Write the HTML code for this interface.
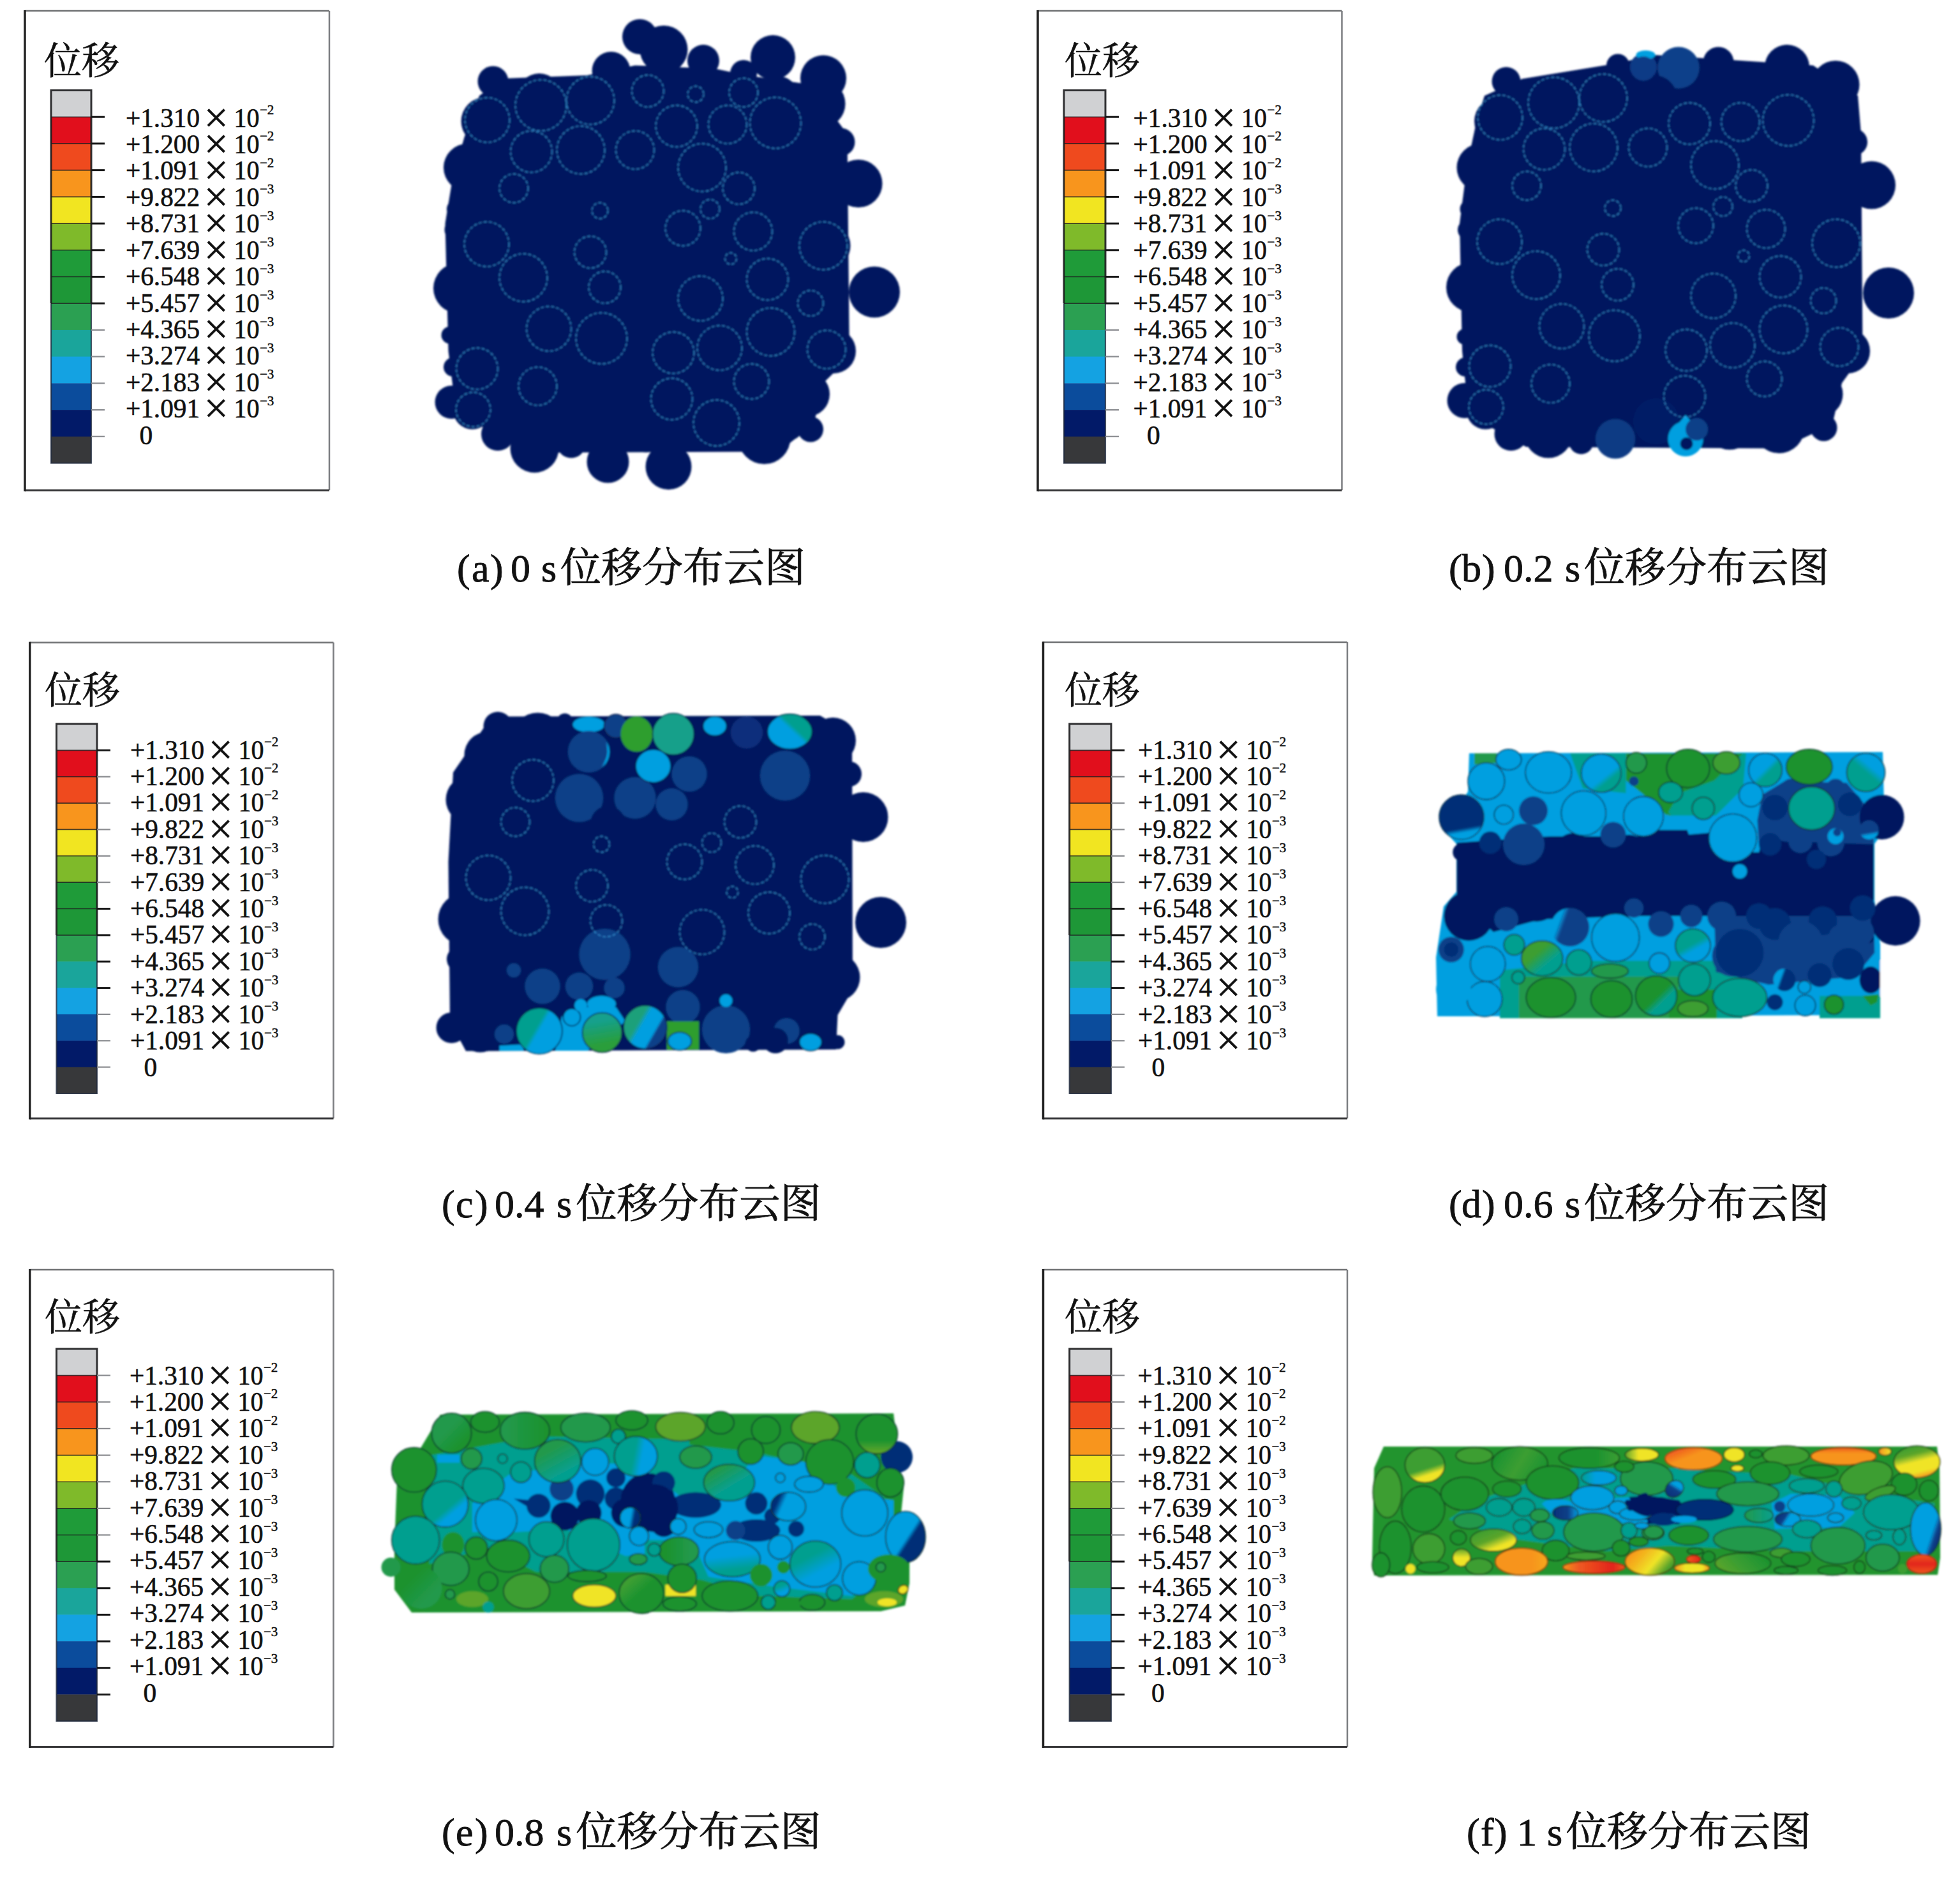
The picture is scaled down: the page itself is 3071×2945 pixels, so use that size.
<!DOCTYPE html><html lang="zh"><head><meta charset="utf-8"><title>位移分布云图</title><style>
html,body{margin:0;padding:0;background:#fff}svg{display:block}
.n{font-family:"Liberation Serif","Noto Serif CJK SC",serif;font-size:41.5px;fill:#111;stroke:#111;stroke-width:0.6px}
.x{font-family:"Liberation Serif","Noto Serif CJK SC",serif;font-size:68px;fill:#111;stroke:#111;stroke-width:0.5px}
.s{font-family:"Liberation Serif","Noto Serif CJK SC",serif;font-size:21px;fill:#111;stroke:#111;stroke-width:0.5px}
.h{font-family:"Liberation Serif","Noto Serif CJK SC",serif;font-size:59px;fill:#111;stroke:#111;stroke-width:0.6px}
.c{font-family:"Liberation Serif","Noto Serif CJK SC",serif;font-size:62px;fill:#111;stroke:#111;stroke-width:0.8px}
.k{font-family:"Liberation Serif","Noto Serif CJK SC",serif;font-size:64px;fill:#111;letter-spacing:0px;stroke:#111;stroke-width:0.8px}
</style></head><body>
<svg width="3071" height="2945" viewBox="0 0 3071 2945">
<defs><filter id="bl" x="-5%" y="-5%" width="110%" height="110%"><feGaussianBlur stdDeviation="1.6"/></filter>
<linearGradient id="g0" x1="0.008" y1="0.413" x2="0.992" y2="0.587"><stop offset="0.86" stop-color="#0b3f88"/><stop offset="0.94" stop-color="#049fe0"/></linearGradient><linearGradient id="g1" x1="0.117" y1="0.821" x2="0.883" y2="0.179"><stop offset="0.54" stop-color="#049fe0"/><stop offset="0.66" stop-color="#069f8f"/></linearGradient><linearGradient id="g2" x1="0.067" y1="0.250" x2="0.933" y2="0.750"><stop offset="0.40" stop-color="#069f8f"/><stop offset="0.50" stop-color="#049fe0"/></linearGradient><linearGradient id="g3" x1="0.413" y1="0.008" x2="0.587" y2="0.992"><stop offset="0.20" stop-color="#14a08c"/><stop offset="0.80" stop-color="#2a9e3a"/></linearGradient><linearGradient id="g4" x1="0.067" y1="0.250" x2="0.933" y2="0.750"><stop offset="0.00" stop-color="#1ea07a"/><stop offset="0.30" stop-color="#1ea07a"/><stop offset="0.42" stop-color="#049fe0"/><stop offset="0.72" stop-color="#049fe0"/><stop offset="0.78" stop-color="#0b3f88"/><stop offset="1.00" stop-color="#0b3f88"/></linearGradient><linearGradient id="g5" x1="0.413" y1="0.008" x2="0.587" y2="0.992"><stop offset="0.75" stop-color="#052f77"/><stop offset="0.85" stop-color="#049fe0"/></linearGradient><linearGradient id="g6" x1="0.030" y1="0.329" x2="0.970" y2="0.671"><stop offset="0.17" stop-color="#049fe0"/><stop offset="0.33" stop-color="#0b3f88"/></linearGradient><linearGradient id="g7" x1="0.030" y1="0.329" x2="0.970" y2="0.671"><stop offset="0.29" stop-color="#049fe0"/><stop offset="0.41" stop-color="#052f77"/></linearGradient><linearGradient id="g8" x1="0.413" y1="0.008" x2="0.587" y2="0.992"><stop offset="0.62" stop-color="#0b3f88"/><stop offset="0.78" stop-color="#049fe0"/></linearGradient><linearGradient id="g9" x1="0.179" y1="0.117" x2="0.821" y2="0.883"><stop offset="0.62" stop-color="#049fe0"/><stop offset="0.78" stop-color="#069f8f"/></linearGradient><linearGradient id="g10" x1="0.146" y1="0.146" x2="0.854" y2="0.854"><stop offset="0.47" stop-color="#049fe0"/><stop offset="0.63" stop-color="#069f8f"/></linearGradient><linearGradient id="g11" x1="0.146" y1="0.146" x2="0.854" y2="0.854"><stop offset="0.52" stop-color="#1a922f"/><stop offset="0.72" stop-color="#069f8f"/></linearGradient><linearGradient id="g12" x1="0.146" y1="0.146" x2="0.854" y2="0.854"><stop offset="0.30" stop-color="#3c9e30"/><stop offset="0.70" stop-color="#069f8f"/></linearGradient><linearGradient id="g13" x1="0.250" y1="0.067" x2="0.750" y2="0.933"><stop offset="0.45" stop-color="#069f8f"/><stop offset="0.65" stop-color="#049fe0"/></linearGradient><linearGradient id="g14" x1="0.179" y1="0.883" x2="0.821" y2="0.117"><stop offset="0.50" stop-color="#069f8f"/><stop offset="0.70" stop-color="#049fe0"/></linearGradient><linearGradient id="g15" x1="0.146" y1="0.146" x2="0.854" y2="0.854"><stop offset="0.35" stop-color="#22994c"/><stop offset="0.85" stop-color="#1a922f"/></linearGradient><linearGradient id="g16" x1="1.000" y1="0.500" x2="0.000" y2="0.500"><stop offset="0.10" stop-color="#1a922f"/><stop offset="0.90" stop-color="#22994c"/></linearGradient><linearGradient id="g17" x1="0.250" y1="0.067" x2="0.750" y2="0.933"><stop offset="0.20" stop-color="#22994c"/><stop offset="0.80" stop-color="#069f8f"/></linearGradient><linearGradient id="g18" x1="0.008" y1="0.413" x2="0.992" y2="0.587"><stop offset="0.45" stop-color="#069f8f"/><stop offset="0.65" stop-color="#049fe0"/></linearGradient><linearGradient id="g19" x1="0.179" y1="0.117" x2="0.821" y2="0.883"><stop offset="0.60" stop-color="#069f8f"/><stop offset="0.76" stop-color="#049fe0"/></linearGradient><linearGradient id="g20" x1="0.008" y1="0.413" x2="0.992" y2="0.587"><stop offset="0.50" stop-color="#049fe0"/><stop offset="0.70" stop-color="#052f77"/></linearGradient><linearGradient id="g21" x1="0.146" y1="0.146" x2="0.854" y2="0.854"><stop offset="0.10" stop-color="#3c9e30"/><stop offset="0.50" stop-color="#1a922f"/></linearGradient><linearGradient id="g22" x1="0.146" y1="0.146" x2="0.854" y2="0.854"><stop offset="0.20" stop-color="#1a922f"/><stop offset="0.80" stop-color="#22994c"/></linearGradient><linearGradient id="g23" x1="0.500" y1="0.000" x2="0.500" y2="1.000"><stop offset="0.65" stop-color="#1a922f"/><stop offset="0.95" stop-color="#5ba52b"/></linearGradient><linearGradient id="g24" x1="0.179" y1="0.117" x2="0.821" y2="0.883"><stop offset="0.10" stop-color="#22994c"/><stop offset="0.60" stop-color="#069f8f"/></linearGradient><linearGradient id="g25" x1="0.117" y1="0.179" x2="0.883" y2="0.821"><stop offset="0.53" stop-color="#049fe0"/><stop offset="0.63" stop-color="#052f77"/></linearGradient><linearGradient id="g26" x1="0.030" y1="0.329" x2="0.970" y2="0.671"><stop offset="0.15" stop-color="#052f77"/><stop offset="0.35" stop-color="#049fe0"/></linearGradient><linearGradient id="g27" x1="0.250" y1="0.067" x2="0.750" y2="0.933"><stop offset="0.30" stop-color="#069f8f"/><stop offset="0.70" stop-color="#049fe0"/></linearGradient><linearGradient id="g28" x1="0.413" y1="0.008" x2="0.587" y2="0.992"><stop offset="0.40" stop-color="#049fe0"/><stop offset="0.80" stop-color="#069f8f"/></linearGradient><linearGradient id="g29" x1="0.000" y1="0.500" x2="1.000" y2="0.500"><stop offset="0.20" stop-color="#1a922f"/><stop offset="0.80" stop-color="#22994c"/></linearGradient><linearGradient id="g30" x1="0.329" y1="0.030" x2="0.671" y2="0.970"><stop offset="0.30" stop-color="#069f8f"/><stop offset="0.70" stop-color="#049fe0"/></linearGradient><linearGradient id="g31" x1="0.329" y1="0.030" x2="0.671" y2="0.970"><stop offset="0.00" stop-color="#3c9e30"/><stop offset="0.60" stop-color="#3c9e30"/><stop offset="0.80" stop-color="#f0e428"/><stop offset="1.00" stop-color="#f0e428"/></linearGradient><linearGradient id="g32" x1="0.179" y1="0.117" x2="0.821" y2="0.883"><stop offset="0.00" stop-color="#3c9e30"/><stop offset="0.45" stop-color="#5ba52b"/><stop offset="0.80" stop-color="#f0e428"/><stop offset="1.00" stop-color="#f0e428"/></linearGradient><linearGradient id="g33" x1="0.500" y1="0.000" x2="0.500" y2="1.000"><stop offset="0.00" stop-color="#5ba52b"/><stop offset="0.50" stop-color="#f0e428"/><stop offset="1.00" stop-color="#f0e428"/></linearGradient><linearGradient id="g34" x1="0.030" y1="0.329" x2="0.970" y2="0.671"><stop offset="0.00" stop-color="#1a922f"/><stop offset="0.50" stop-color="#3c9e30"/><stop offset="1.00" stop-color="#1a922f"/></linearGradient><linearGradient id="g35" x1="0.000" y1="0.500" x2="1.000" y2="0.500"><stop offset="0.00" stop-color="#1a922f"/><stop offset="0.60" stop-color="#1a922f"/><stop offset="1.00" stop-color="#3c9e30"/></linearGradient><linearGradient id="g36" x1="0.000" y1="0.500" x2="1.000" y2="0.500"><stop offset="0.00" stop-color="#069f8f"/><stop offset="0.40" stop-color="#049fe0"/><stop offset="1.00" stop-color="#049fe0"/></linearGradient><linearGradient id="g37" x1="0.000" y1="0.500" x2="1.000" y2="0.500"><stop offset="0.00" stop-color="#052f77"/><stop offset="0.60" stop-color="#0b3f88"/><stop offset="1.00" stop-color="#049fe0"/></linearGradient><linearGradient id="g38" x1="0.000" y1="0.500" x2="1.000" y2="0.500"><stop offset="0.00" stop-color="#f7941e"/><stop offset="0.70" stop-color="#f7941e"/><stop offset="1.00" stop-color="#f5a81f"/></linearGradient><linearGradient id="g39" x1="0.000" y1="0.500" x2="1.000" y2="0.500"><stop offset="0.00" stop-color="#f7941e"/><stop offset="0.25" stop-color="#ef5a20"/><stop offset="0.80" stop-color="#e2231c"/><stop offset="1.00" stop-color="#ef5a20"/></linearGradient><linearGradient id="g40" x1="0.047" y1="0.289" x2="0.953" y2="0.711"><stop offset="0.00" stop-color="#f7941e"/><stop offset="0.30" stop-color="#f3b91f"/><stop offset="0.60" stop-color="#f0e428"/><stop offset="0.90" stop-color="#5ba52b"/><stop offset="1.00" stop-color="#3c9e30"/></linearGradient><linearGradient id="g41" x1="0.000" y1="0.500" x2="1.000" y2="0.500"><stop offset="0.00" stop-color="#5ba52b"/><stop offset="0.40" stop-color="#f0e428"/><stop offset="1.00" stop-color="#f0e428"/></linearGradient><linearGradient id="g42" x1="0.146" y1="0.146" x2="0.854" y2="0.854"><stop offset="0.00" stop-color="#ef5a20"/><stop offset="0.40" stop-color="#f7941e"/><stop offset="1.00" stop-color="#f7941e"/></linearGradient><linearGradient id="g43" x1="0.500" y1="0.000" x2="0.500" y2="1.000"><stop offset="0.00" stop-color="#ef5a20"/><stop offset="0.35" stop-color="#f7941e"/><stop offset="1.00" stop-color="#f7941e"/></linearGradient><linearGradient id="g44" x1="0.000" y1="0.500" x2="1.000" y2="0.500"><stop offset="0.00" stop-color="#f7941e"/><stop offset="1.00" stop-color="#f0e428"/></linearGradient><linearGradient id="g45" x1="0.329" y1="0.030" x2="0.671" y2="0.970"><stop offset="0.00" stop-color="#3c9e30"/><stop offset="0.25" stop-color="#5ba52b"/><stop offset="0.50" stop-color="#f0e428"/><stop offset="0.80" stop-color="#f0e428"/><stop offset="1.00" stop-color="#f7941e"/></linearGradient><linearGradient id="g46" x1="0.067" y1="0.250" x2="0.933" y2="0.750"><stop offset="0.00" stop-color="#049fe0"/><stop offset="0.70" stop-color="#049fe0"/><stop offset="0.85" stop-color="#0b3f88"/><stop offset="1.00" stop-color="#052f77"/></linearGradient><linearGradient id="g47" x1="0.000" y1="0.500" x2="1.000" y2="0.500"><stop offset="0.00" stop-color="#22994c"/><stop offset="1.00" stop-color="#069f8f"/></linearGradient><linearGradient id="g48" x1="0.030" y1="0.329" x2="0.970" y2="0.671"><stop offset="0.00" stop-color="#052f77"/><stop offset="0.35" stop-color="#0b3f88"/><stop offset="0.50" stop-color="#049fe0"/><stop offset="1.00" stop-color="#049fe0"/></linearGradient><linearGradient id="g49" x1="0.030" y1="0.671" x2="0.970" y2="0.329"><stop offset="0.00" stop-color="#052f77"/><stop offset="0.50" stop-color="#0b3f88"/><stop offset="0.70" stop-color="#049fe0"/><stop offset="1.00" stop-color="#049fe0"/></linearGradient><linearGradient id="g50" x1="0.000" y1="0.500" x2="1.000" y2="0.500"><stop offset="0.00" stop-color="#ef5a20"/><stop offset="1.00" stop-color="#e2231c"/></linearGradient><linearGradient id="g51" x1="0.000" y1="0.500" x2="1.000" y2="0.500"><stop offset="0.00" stop-color="#f7941e"/><stop offset="0.30" stop-color="#f0e428"/><stop offset="0.80" stop-color="#f0e428"/><stop offset="1.00" stop-color="#f7941e"/></linearGradient><linearGradient id="g52" x1="0.030" y1="0.671" x2="0.970" y2="0.329"><stop offset="0.00" stop-color="#5ba52b"/><stop offset="0.40" stop-color="#3c9e30"/><stop offset="1.00" stop-color="#1a922f"/></linearGradient><linearGradient id="g53" x1="0.500" y1="0.000" x2="0.500" y2="1.000"><stop offset="0.00" stop-color="#ef5a20"/><stop offset="0.50" stop-color="#e2231c"/><stop offset="1.00" stop-color="#ef5a20"/></linearGradient>
</defs>
<rect width="3071" height="2945" fill="#fff"/>
<g filter="url(#bl)">
<polygon points="751.0,150.0 787.5,123.0 920.0,118.0 995.0,102.5 1120.0,107.5 1170.0,118.0 1270.0,132.5 1327.5,210.0 1331.0,560.0 1290.0,600.0 1275.0,665.0 1220.0,707.5 860.0,709.0 820.0,697.5 715.0,650.0 702.5,550.0 697.5,350.0 709.0,280.0 727.5,215.0" fill="#02195f"/>
<circle cx="1002.5" cy="57.5" r="27.5" fill="#02195f"/>
<circle cx="1040.0" cy="77.5" r="37.5" fill="#02195f"/>
<circle cx="1102.0" cy="95.0" r="25.0" fill="#02195f"/>
<circle cx="957.5" cy="111.0" r="30.0" fill="#02195f"/>
<circle cx="1211.0" cy="90.0" r="35.0" fill="#02195f"/>
<circle cx="1290.0" cy="122.5" r="36.0" fill="#02195f"/>
<circle cx="1287.5" cy="162.5" r="37.0" fill="#02195f"/>
<circle cx="1317.5" cy="222.5" r="22.0" fill="#02195f"/>
<circle cx="1345.0" cy="287.5" r="37.5" fill="#02195f"/>
<circle cx="1370.0" cy="457.5" r="40.0" fill="#02195f"/>
<circle cx="1295.0" cy="385.0" r="37.5" fill="#02195f"/>
<circle cx="1306.0" cy="550.0" r="35.0" fill="#02195f"/>
<circle cx="1265.0" cy="617.5" r="35.0" fill="#02195f"/>
<circle cx="1270.0" cy="672.5" r="20.0" fill="#02195f"/>
<circle cx="1197.5" cy="686.0" r="41.0" fill="#02195f"/>
<circle cx="1122.5" cy="665.0" r="39.0" fill="#02195f"/>
<circle cx="1047.5" cy="731.0" r="36.0" fill="#02195f"/>
<circle cx="952.5" cy="723.5" r="33.0" fill="#02195f"/>
<circle cx="837.5" cy="702.5" r="38.0" fill="#02195f"/>
<circle cx="895.0" cy="695.0" r="22.5" fill="#02195f"/>
<circle cx="780.0" cy="680.0" r="26.0" fill="#02195f"/>
<circle cx="740.0" cy="642.5" r="30.0" fill="#02195f"/>
<circle cx="707.5" cy="630.0" r="26.0" fill="#02195f"/>
<circle cx="718.5" cy="451.5" r="39.5" fill="#02195f"/>
<circle cx="732.5" cy="262.5" r="37.5" fill="#02195f"/>
<circle cx="760.0" cy="190.0" r="37.5" fill="#02195f"/>
<circle cx="772.5" cy="127.5" r="24.0" fill="#02195f"/>
<circle cx="715.0" cy="327.5" r="15.0" fill="#02195f"/>
<circle cx="712.5" cy="360.0" r="16.0" fill="#02195f"/>
<circle cx="705.0" cy="525.0" r="13.5" fill="#02195f"/>
<circle cx="710.0" cy="575.0" r="15.0" fill="#02195f"/>
<circle cx="1165.0" cy="115.0" r="21.0" fill="#02195f"/>
<circle cx="1012.5" cy="677.5" r="31.0" fill="#02195f"/>
<circle cx="1235.0" cy="665.0" r="25.0" fill="#02195f"/>
<circle cx="1222.5" cy="145.0" r="25.0" fill="#02195f"/>
<circle cx="1080.0" cy="690.0" r="16.0" fill="#02195f"/>
<circle cx="845.0" cy="150.0" r="35.0" fill="#02195f"/>
<circle cx="1030.0" cy="135.0" r="30.0" fill="#02195f"/>
<circle cx="1075.0" cy="135.0" r="27.5" fill="#02195f"/>
<circle cx="763.5" cy="188.0" r="35.0" fill="none" stroke="#3fa9e8" stroke-width="1.4" stroke-dasharray="5 3" stroke-opacity="0.8"/>
<circle cx="847.5" cy="165.0" r="40.0" fill="none" stroke="#3fa9e8" stroke-width="1.4" stroke-dasharray="5 3" stroke-opacity="0.8"/>
<circle cx="925.0" cy="157.5" r="37.5" fill="none" stroke="#3fa9e8" stroke-width="1.4" stroke-dasharray="5 3" stroke-opacity="0.8"/>
<circle cx="1015.0" cy="142.5" r="25.0" fill="none" stroke="#3fa9e8" stroke-width="1.4" stroke-dasharray="5 3" stroke-opacity="0.8"/>
<circle cx="1090.0" cy="147.5" r="12.5" fill="none" stroke="#3fa9e8" stroke-width="1.4" stroke-dasharray="5 3" stroke-opacity="0.8"/>
<circle cx="1165.0" cy="145.0" r="22.5" fill="none" stroke="#3fa9e8" stroke-width="1.4" stroke-dasharray="5 3" stroke-opacity="0.8"/>
<circle cx="1060.0" cy="197.5" r="32.5" fill="none" stroke="#3fa9e8" stroke-width="1.4" stroke-dasharray="5 3" stroke-opacity="0.8"/>
<circle cx="1140.0" cy="195.0" r="30.0" fill="none" stroke="#3fa9e8" stroke-width="1.4" stroke-dasharray="5 3" stroke-opacity="0.8"/>
<circle cx="1215.0" cy="192.5" r="40.0" fill="none" stroke="#3fa9e8" stroke-width="1.4" stroke-dasharray="5 3" stroke-opacity="0.8"/>
<circle cx="832.5" cy="237.5" r="32.5" fill="none" stroke="#3fa9e8" stroke-width="1.4" stroke-dasharray="5 3" stroke-opacity="0.8"/>
<circle cx="910.0" cy="235.0" r="37.5" fill="none" stroke="#3fa9e8" stroke-width="1.4" stroke-dasharray="5 3" stroke-opacity="0.8"/>
<circle cx="995.0" cy="235.0" r="30.0" fill="none" stroke="#3fa9e8" stroke-width="1.4" stroke-dasharray="5 3" stroke-opacity="0.8"/>
<circle cx="1100.0" cy="262.5" r="37.5" fill="none" stroke="#3fa9e8" stroke-width="1.4" stroke-dasharray="5 3" stroke-opacity="0.8"/>
<circle cx="805.0" cy="295.0" r="22.5" fill="none" stroke="#3fa9e8" stroke-width="1.4" stroke-dasharray="5 3" stroke-opacity="0.8"/>
<circle cx="1157.5" cy="295.0" r="25.0" fill="none" stroke="#3fa9e8" stroke-width="1.4" stroke-dasharray="5 3" stroke-opacity="0.8"/>
<circle cx="940.0" cy="330.0" r="12.5" fill="none" stroke="#3fa9e8" stroke-width="1.4" stroke-dasharray="5 3" stroke-opacity="0.8"/>
<circle cx="1070.0" cy="357.5" r="27.5" fill="none" stroke="#3fa9e8" stroke-width="1.4" stroke-dasharray="5 3" stroke-opacity="0.8"/>
<circle cx="1112.5" cy="327.5" r="15.0" fill="none" stroke="#3fa9e8" stroke-width="1.4" stroke-dasharray="5 3" stroke-opacity="0.8"/>
<circle cx="1180.0" cy="362.5" r="30.0" fill="none" stroke="#3fa9e8" stroke-width="1.4" stroke-dasharray="5 3" stroke-opacity="0.8"/>
<circle cx="1290.0" cy="385.0" r="37.5" fill="none" stroke="#3fa9e8" stroke-width="1.4" stroke-dasharray="5 3" stroke-opacity="0.8"/>
<circle cx="762.5" cy="382.5" r="35.0" fill="none" stroke="#3fa9e8" stroke-width="1.4" stroke-dasharray="5 3" stroke-opacity="0.8"/>
<circle cx="925.0" cy="395.0" r="25.0" fill="none" stroke="#3fa9e8" stroke-width="1.4" stroke-dasharray="5 3" stroke-opacity="0.8"/>
<circle cx="820.0" cy="435.0" r="37.5" fill="none" stroke="#3fa9e8" stroke-width="1.4" stroke-dasharray="5 3" stroke-opacity="0.8"/>
<circle cx="947.5" cy="450.0" r="25.0" fill="none" stroke="#3fa9e8" stroke-width="1.4" stroke-dasharray="5 3" stroke-opacity="0.8"/>
<circle cx="1097.5" cy="467.5" r="35.0" fill="none" stroke="#3fa9e8" stroke-width="1.4" stroke-dasharray="5 3" stroke-opacity="0.8"/>
<circle cx="1202.5" cy="437.5" r="32.5" fill="none" stroke="#3fa9e8" stroke-width="1.4" stroke-dasharray="5 3" stroke-opacity="0.8"/>
<circle cx="1270.0" cy="475.0" r="20.0" fill="none" stroke="#3fa9e8" stroke-width="1.4" stroke-dasharray="5 3" stroke-opacity="0.8"/>
<circle cx="1145.0" cy="405.0" r="9.0" fill="none" stroke="#3fa9e8" stroke-width="1.4" stroke-dasharray="5 3" stroke-opacity="0.8"/>
<circle cx="860.0" cy="515.0" r="35.0" fill="none" stroke="#3fa9e8" stroke-width="1.4" stroke-dasharray="5 3" stroke-opacity="0.8"/>
<circle cx="942.5" cy="530.0" r="40.0" fill="none" stroke="#3fa9e8" stroke-width="1.4" stroke-dasharray="5 3" stroke-opacity="0.8"/>
<circle cx="1055.0" cy="552.5" r="32.5" fill="none" stroke="#3fa9e8" stroke-width="1.4" stroke-dasharray="5 3" stroke-opacity="0.8"/>
<circle cx="1127.5" cy="545.0" r="35.0" fill="none" stroke="#3fa9e8" stroke-width="1.4" stroke-dasharray="5 3" stroke-opacity="0.8"/>
<circle cx="1207.5" cy="520.0" r="37.5" fill="none" stroke="#3fa9e8" stroke-width="1.4" stroke-dasharray="5 3" stroke-opacity="0.8"/>
<circle cx="1295.0" cy="547.5" r="30.0" fill="none" stroke="#3fa9e8" stroke-width="1.4" stroke-dasharray="5 3" stroke-opacity="0.8"/>
<circle cx="747.5" cy="577.5" r="32.5" fill="none" stroke="#3fa9e8" stroke-width="1.4" stroke-dasharray="5 3" stroke-opacity="0.8"/>
<circle cx="842.5" cy="605.0" r="30.0" fill="none" stroke="#3fa9e8" stroke-width="1.4" stroke-dasharray="5 3" stroke-opacity="0.8"/>
<circle cx="1052.5" cy="625.0" r="32.5" fill="none" stroke="#3fa9e8" stroke-width="1.4" stroke-dasharray="5 3" stroke-opacity="0.8"/>
<circle cx="1177.5" cy="597.5" r="27.5" fill="none" stroke="#3fa9e8" stroke-width="1.4" stroke-dasharray="5 3" stroke-opacity="0.8"/>
<circle cx="741.5" cy="641.5" r="27.0" fill="none" stroke="#3fa9e8" stroke-width="1.4" stroke-dasharray="5 3" stroke-opacity="0.8"/>
<circle cx="1122.5" cy="662.5" r="36.0" fill="none" stroke="#3fa9e8" stroke-width="1.4" stroke-dasharray="5 3" stroke-opacity="0.8"/>
</g>
<g filter="url(#bl)">
<polygon points="2326.0,150.0 2385.0,123.5 2535.0,99.0 2591.0,86.0 2841.0,102.5 2911.0,150.0 2916.0,210.0 2918.5,555.0 2886.0,600.0 2871.0,665.0 2791.0,702.5 2391.0,700.0 2301.0,650.0 2291.0,550.0 2287.0,350.0 2298.5,260.0 2313.5,190.0" fill="#02195f"/>
<circle cx="2360.0" cy="127.5" r="22.5" fill="#02195f"/>
<circle cx="2535.0" cy="102.5" r="18.0" fill="#02195f"/>
<circle cx="2575.0" cy="105.0" r="21.0" fill="#0e3a86"/>
<circle cx="2630.0" cy="106.0" r="32.5" fill="#0f3f8a"/>
<circle cx="2692.5" cy="97.5" r="24.0" fill="#02195f"/>
<circle cx="2752.5" cy="115.0" r="15.0" fill="#02195f"/>
<circle cx="2800.0" cy="105.0" r="35.0" fill="#02195f"/>
<circle cx="2876.0" cy="132.5" r="37.5" fill="#02195f"/>
<circle cx="2875.0" cy="165.0" r="36.0" fill="#02195f"/>
<circle cx="2905.0" cy="222.5" r="21.0" fill="#02195f"/>
<circle cx="2932.5" cy="290.0" r="37.5" fill="#02195f"/>
<circle cx="2959.0" cy="459.0" r="40.0" fill="#02195f"/>
<circle cx="2895.0" cy="550.0" r="35.0" fill="#02195f"/>
<circle cx="2852.5" cy="617.5" r="35.0" fill="#02195f"/>
<circle cx="2857.5" cy="670.0" r="21.0" fill="#02195f"/>
<circle cx="2426.0" cy="680.0" r="37.5" fill="#02195f"/>
<circle cx="2367.5" cy="680.0" r="26.0" fill="#02195f"/>
<circle cx="2531.0" cy="687.5" r="31.0" fill="#0c3a84"/>
<circle cx="2595.0" cy="660.0" r="36.0" fill="#031c66"/>
<circle cx="2710.0" cy="665.0" r="39.5" fill="#02195f"/>
<circle cx="2787.5" cy="670.0" r="40.0" fill="#02195f"/>
<circle cx="2320.0" cy="262.5" r="37.5" fill="#02195f"/>
<circle cx="2347.5" cy="190.0" r="37.5" fill="#02195f"/>
<circle cx="2302.5" cy="327.5" r="15.0" fill="#02195f"/>
<circle cx="2300.0" cy="360.0" r="16.0" fill="#02195f"/>
<circle cx="2305.0" cy="450.0" r="39.0" fill="#02195f"/>
<circle cx="2295.0" cy="527.5" r="12.5" fill="#02195f"/>
<circle cx="2295.0" cy="627.5" r="27.5" fill="#02195f"/>
<circle cx="2327.5" cy="642.5" r="30.0" fill="#02195f"/>
<circle cx="2296.0" cy="575.0" r="15.0" fill="#02195f"/>
<circle cx="2477.5" cy="692.5" r="19.0" fill="#02195f"/>
<circle cx="2436.0" cy="160.0" r="37.5" fill="#02195f"/>
<circle cx="2591.0" cy="155.0" r="37.5" fill="#02195f"/>
<circle cx="2641.0" cy="687.5" r="27.5" fill="#049fe0"/>
<polygon points="2628.5,665.0 2641.0,650.0 2658.5,670.0" fill="#049fe0"/>
<circle cx="2658.5" cy="672.5" r="17.5" fill="#0b3f88"/>
<circle cx="2642.5" cy="695.0" r="10.0" fill="#02195f"/>
<ellipse cx="2578.5" cy="86.0" rx="15.0" ry="7.0" fill="#049fe0"/>
<circle cx="2575.0" cy="107.5" r="19.0" fill="#0e3a86"/>
<circle cx="2350.5" cy="184.0" r="35.0" fill="none" stroke="#3fa9e8" stroke-width="1.4" stroke-dasharray="5 3" stroke-opacity="0.8"/>
<circle cx="2434.5" cy="161.0" r="40.0" fill="none" stroke="#3fa9e8" stroke-width="1.4" stroke-dasharray="5 3" stroke-opacity="0.8"/>
<circle cx="2512.0" cy="153.5" r="37.5" fill="none" stroke="#3fa9e8" stroke-width="1.4" stroke-dasharray="5 3" stroke-opacity="0.8"/>
<circle cx="2647.0" cy="193.5" r="32.5" fill="none" stroke="#3fa9e8" stroke-width="1.4" stroke-dasharray="5 3" stroke-opacity="0.8"/>
<circle cx="2727.0" cy="191.0" r="30.0" fill="none" stroke="#3fa9e8" stroke-width="1.4" stroke-dasharray="5 3" stroke-opacity="0.8"/>
<circle cx="2802.0" cy="188.5" r="40.0" fill="none" stroke="#3fa9e8" stroke-width="1.4" stroke-dasharray="5 3" stroke-opacity="0.8"/>
<circle cx="2419.5" cy="233.5" r="32.5" fill="none" stroke="#3fa9e8" stroke-width="1.4" stroke-dasharray="5 3" stroke-opacity="0.8"/>
<circle cx="2497.0" cy="231.0" r="37.5" fill="none" stroke="#3fa9e8" stroke-width="1.4" stroke-dasharray="5 3" stroke-opacity="0.8"/>
<circle cx="2582.0" cy="231.0" r="30.0" fill="none" stroke="#3fa9e8" stroke-width="1.4" stroke-dasharray="5 3" stroke-opacity="0.8"/>
<circle cx="2687.0" cy="258.5" r="37.5" fill="none" stroke="#3fa9e8" stroke-width="1.4" stroke-dasharray="5 3" stroke-opacity="0.8"/>
<circle cx="2392.0" cy="291.0" r="22.5" fill="none" stroke="#3fa9e8" stroke-width="1.4" stroke-dasharray="5 3" stroke-opacity="0.8"/>
<circle cx="2744.5" cy="291.0" r="25.0" fill="none" stroke="#3fa9e8" stroke-width="1.4" stroke-dasharray="5 3" stroke-opacity="0.8"/>
<circle cx="2527.0" cy="326.0" r="12.5" fill="none" stroke="#3fa9e8" stroke-width="1.4" stroke-dasharray="5 3" stroke-opacity="0.8"/>
<circle cx="2657.0" cy="353.5" r="27.5" fill="none" stroke="#3fa9e8" stroke-width="1.4" stroke-dasharray="5 3" stroke-opacity="0.8"/>
<circle cx="2699.5" cy="323.5" r="15.0" fill="none" stroke="#3fa9e8" stroke-width="1.4" stroke-dasharray="5 3" stroke-opacity="0.8"/>
<circle cx="2767.0" cy="358.5" r="30.0" fill="none" stroke="#3fa9e8" stroke-width="1.4" stroke-dasharray="5 3" stroke-opacity="0.8"/>
<circle cx="2877.0" cy="381.0" r="37.5" fill="none" stroke="#3fa9e8" stroke-width="1.4" stroke-dasharray="5 3" stroke-opacity="0.8"/>
<circle cx="2349.5" cy="378.5" r="35.0" fill="none" stroke="#3fa9e8" stroke-width="1.4" stroke-dasharray="5 3" stroke-opacity="0.8"/>
<circle cx="2512.0" cy="391.0" r="25.0" fill="none" stroke="#3fa9e8" stroke-width="1.4" stroke-dasharray="5 3" stroke-opacity="0.8"/>
<circle cx="2407.0" cy="431.0" r="37.5" fill="none" stroke="#3fa9e8" stroke-width="1.4" stroke-dasharray="5 3" stroke-opacity="0.8"/>
<circle cx="2534.5" cy="446.0" r="25.0" fill="none" stroke="#3fa9e8" stroke-width="1.4" stroke-dasharray="5 3" stroke-opacity="0.8"/>
<circle cx="2684.5" cy="463.5" r="35.0" fill="none" stroke="#3fa9e8" stroke-width="1.4" stroke-dasharray="5 3" stroke-opacity="0.8"/>
<circle cx="2789.5" cy="433.5" r="32.5" fill="none" stroke="#3fa9e8" stroke-width="1.4" stroke-dasharray="5 3" stroke-opacity="0.8"/>
<circle cx="2857.0" cy="471.0" r="20.0" fill="none" stroke="#3fa9e8" stroke-width="1.4" stroke-dasharray="5 3" stroke-opacity="0.8"/>
<circle cx="2732.0" cy="401.0" r="9.0" fill="none" stroke="#3fa9e8" stroke-width="1.4" stroke-dasharray="5 3" stroke-opacity="0.8"/>
<circle cx="2447.0" cy="511.0" r="35.0" fill="none" stroke="#3fa9e8" stroke-width="1.4" stroke-dasharray="5 3" stroke-opacity="0.8"/>
<circle cx="2529.5" cy="526.0" r="40.0" fill="none" stroke="#3fa9e8" stroke-width="1.4" stroke-dasharray="5 3" stroke-opacity="0.8"/>
<circle cx="2642.0" cy="548.5" r="32.5" fill="none" stroke="#3fa9e8" stroke-width="1.4" stroke-dasharray="5 3" stroke-opacity="0.8"/>
<circle cx="2714.5" cy="541.0" r="35.0" fill="none" stroke="#3fa9e8" stroke-width="1.4" stroke-dasharray="5 3" stroke-opacity="0.8"/>
<circle cx="2794.5" cy="516.0" r="37.5" fill="none" stroke="#3fa9e8" stroke-width="1.4" stroke-dasharray="5 3" stroke-opacity="0.8"/>
<circle cx="2882.0" cy="543.5" r="30.0" fill="none" stroke="#3fa9e8" stroke-width="1.4" stroke-dasharray="5 3" stroke-opacity="0.8"/>
<circle cx="2334.5" cy="573.5" r="32.5" fill="none" stroke="#3fa9e8" stroke-width="1.4" stroke-dasharray="5 3" stroke-opacity="0.8"/>
<circle cx="2429.5" cy="601.0" r="30.0" fill="none" stroke="#3fa9e8" stroke-width="1.4" stroke-dasharray="5 3" stroke-opacity="0.8"/>
<circle cx="2639.5" cy="621.0" r="32.5" fill="none" stroke="#3fa9e8" stroke-width="1.4" stroke-dasharray="5 3" stroke-opacity="0.8"/>
<circle cx="2764.5" cy="593.5" r="27.5" fill="none" stroke="#3fa9e8" stroke-width="1.4" stroke-dasharray="5 3" stroke-opacity="0.8"/>
<circle cx="2328.5" cy="637.5" r="27.0" fill="none" stroke="#3fa9e8" stroke-width="1.4" stroke-dasharray="5 3" stroke-opacity="0.8"/>
</g>
<g filter="url(#bl)">
<polygon points="770.0,1122.5 1285.0,1121.0 1335.0,1150.0 1336.0,1550.0 1312.5,1590.0 1310.0,1644.0 730.0,1646.5 705.0,1600.0 702.5,1350.0 710.0,1210.0" fill="#02195f"/>
<circle cx="736.0" cy="1252.5" r="37.5" fill="#02195f"/>
<circle cx="763.5" cy="1182.5" r="36.0" fill="#02195f"/>
<circle cx="780.0" cy="1137.5" r="22.5" fill="#02195f"/>
<circle cx="722.5" cy="1317.5" r="14.0" fill="#02195f"/>
<circle cx="720.0" cy="1350.0" r="15.0" fill="#02195f"/>
<circle cx="727.5" cy="1440.0" r="41.0" fill="#02195f"/>
<circle cx="720.0" cy="1502.5" r="20.0" fill="#02195f"/>
<circle cx="725.0" cy="1555.0" r="17.5" fill="#02195f"/>
<circle cx="707.5" cy="1610.0" r="24.0" fill="#02195f"/>
<circle cx="752.5" cy="1617.5" r="31.0" fill="#02195f"/>
<circle cx="1305.0" cy="1160.0" r="36.0" fill="#02195f"/>
<circle cx="1330.0" cy="1212.5" r="20.0" fill="#02195f"/>
<circle cx="1352.5" cy="1280.0" r="39.0" fill="#02195f"/>
<circle cx="1380.0" cy="1445.0" r="40.0" fill="#02195f"/>
<circle cx="1310.0" cy="1531.0" r="37.5" fill="#02195f"/>
<circle cx="1265.0" cy="1590.0" r="42.5" fill="#02195f"/>
<circle cx="842.5" cy="1157.5" r="41.0" fill="#02195f"/>
<circle cx="885.0" cy="1130.0" r="12.5" fill="#02195f"/>
<circle cx="1312.5" cy="1632.5" r="11.0" fill="#02195f"/>
<ellipse cx="922.5" cy="1135.0" rx="25.0" ry="12.0" fill="#049fe0"/>
<circle cx="922.5" cy="1177.5" r="32.5" fill="url(#g0)"/>
<circle cx="922.5" cy="1177.5" r="29.0" fill="#0b3f88"/>
<circle cx="907.5" cy="1250.0" r="37.5" fill="#0b3f88"/>
<circle cx="995.0" cy="1250.0" r="32.5" fill="#0b3f88"/>
<circle cx="1080.0" cy="1212.5" r="27.5" fill="#0b3f88"/>
<circle cx="1052.5" cy="1260.0" r="25.0" fill="#0b3f88"/>
<circle cx="1230.0" cy="1215.0" r="39.0" fill="#0b3f88"/>
<circle cx="1170.0" cy="1147.5" r="25.0" fill="#0f2f7c"/>
<circle cx="965.0" cy="1137.5" r="18.5" fill="#0b3f88" stroke="#081a4a" stroke-width="1.6"/>
<ellipse cx="997.5" cy="1150.0" rx="25.0" ry="27.5" fill="#2e9e2e"/>
<circle cx="1055.0" cy="1150.0" r="32.5" fill="#12a08a" stroke="#081a4a" stroke-width="1.6"/>
<ellipse cx="1023.5" cy="1200.0" rx="27.5" ry="26.0" fill="#049fe0" stroke="#081a4a" stroke-width="1.6"/>
<ellipse cx="1120.0" cy="1137.5" rx="18.5" ry="15.0" fill="#049fe0" stroke="#081a4a" stroke-width="1.6"/>
<ellipse cx="1237.5" cy="1146.0" rx="35.0" ry="27.5" fill="url(#g1)" stroke="#081a4a" stroke-width="1.6"/>
<circle cx="975.0" cy="1190.0" r="12.5" fill="#02195f"/>
<circle cx="1115.0" cy="1272.5" r="35.0" fill="#02195f"/>
<circle cx="952.5" cy="1290.0" r="27.5" fill="#02195f"/>
<circle cx="947.5" cy="1495.0" r="40.0" fill="#0b3f88"/>
<circle cx="1062.5" cy="1515.0" r="31.5" fill="#0b3f88"/>
<circle cx="1070.0" cy="1577.5" r="26.5" fill="#0b3f88"/>
<circle cx="850.0" cy="1545.0" r="27.5" fill="#0b3f88"/>
<circle cx="907.5" cy="1545.0" r="21.5" fill="#0b3f88"/>
<circle cx="962.5" cy="1547.5" r="16.0" fill="#0b3f88"/>
<circle cx="1137.5" cy="1612.5" r="37.5" fill="#0b3f88"/>
<circle cx="1232.5" cy="1615.0" r="20.0" fill="#0b3f88"/>
<circle cx="805.0" cy="1520.0" r="11.0" fill="#0b3f88"/>
<circle cx="790.0" cy="1620.0" r="15.0" fill="#0b3f88"/>
<circle cx="872.5" cy="1487.5" r="32.5" fill="#02195f"/>
<circle cx="1215.0" cy="1630.0" r="20.0" fill="#02195f"/>
<circle cx="1180.0" cy="1635.0" r="12.5" fill="#02195f"/>
<polygon points="880.0,1592.5 920.0,1577.5 965.0,1577.5 980.0,1600.0 920.0,1646.0 870.0,1646.0" fill="#049fe0"/>
<polygon points="782.5,1638.0 820.0,1636.0 820.0,1646.0 782.5,1646.0" fill="#049fe0"/>
<polygon points="1045.0,1600.0 1095.0,1600.0 1095.0,1644.0 1045.0,1644.0" fill="#2e9e2e"/>
<circle cx="845.0" cy="1615.0" r="36.0" fill="url(#g2)" stroke="#081a4a" stroke-width="1.6"/>
<circle cx="896.0" cy="1593.5" r="13.5" fill="#049fe0" stroke="#081a4a" stroke-width="1.6"/>
<ellipse cx="942.5" cy="1572.5" rx="22.5" ry="12.5" fill="#049fe0"/>
<circle cx="910.0" cy="1575.0" r="10.0" fill="#049fe0"/>
<circle cx="943.5" cy="1617.5" r="31.0" fill="url(#g3)" stroke="#081a4a" stroke-width="1.6"/>
<circle cx="1011.0" cy="1609.0" r="34.0" fill="url(#g4)" stroke="#081a4a" stroke-width="1.6"/>
<ellipse cx="1065.0" cy="1631.0" rx="18.5" ry="14.0" fill="#049fe0" stroke="#081a4a" stroke-width="1.6"/>
<ellipse cx="1270.0" cy="1632.5" rx="17.5" ry="13.5" fill="#049fe0" stroke="#081a4a" stroke-width="1.6"/>
<circle cx="1137.5" cy="1567.5" r="10.0" fill="#049fe0"/>
<circle cx="807.5" cy="1287.5" r="22.5" fill="none" stroke="#3fa9e8" stroke-width="1.4" stroke-dasharray="5 3" stroke-opacity="0.8"/>
<circle cx="1160.0" cy="1287.5" r="25.0" fill="none" stroke="#3fa9e8" stroke-width="1.4" stroke-dasharray="5 3" stroke-opacity="0.8"/>
<circle cx="942.5" cy="1322.5" r="12.5" fill="none" stroke="#3fa9e8" stroke-width="1.4" stroke-dasharray="5 3" stroke-opacity="0.8"/>
<circle cx="1072.5" cy="1350.0" r="27.5" fill="none" stroke="#3fa9e8" stroke-width="1.4" stroke-dasharray="5 3" stroke-opacity="0.8"/>
<circle cx="1115.0" cy="1320.0" r="15.0" fill="none" stroke="#3fa9e8" stroke-width="1.4" stroke-dasharray="5 3" stroke-opacity="0.8"/>
<circle cx="1182.5" cy="1355.0" r="30.0" fill="none" stroke="#3fa9e8" stroke-width="1.4" stroke-dasharray="5 3" stroke-opacity="0.8"/>
<circle cx="1292.5" cy="1377.5" r="37.5" fill="none" stroke="#3fa9e8" stroke-width="1.4" stroke-dasharray="5 3" stroke-opacity="0.8"/>
<circle cx="765.0" cy="1375.0" r="35.0" fill="none" stroke="#3fa9e8" stroke-width="1.4" stroke-dasharray="5 3" stroke-opacity="0.8"/>
<circle cx="927.5" cy="1387.5" r="25.0" fill="none" stroke="#3fa9e8" stroke-width="1.4" stroke-dasharray="5 3" stroke-opacity="0.8"/>
<circle cx="822.5" cy="1427.5" r="37.5" fill="none" stroke="#3fa9e8" stroke-width="1.4" stroke-dasharray="5 3" stroke-opacity="0.8"/>
<circle cx="950.0" cy="1442.5" r="25.0" fill="none" stroke="#3fa9e8" stroke-width="1.4" stroke-dasharray="5 3" stroke-opacity="0.8"/>
<circle cx="1100.0" cy="1460.0" r="35.0" fill="none" stroke="#3fa9e8" stroke-width="1.4" stroke-dasharray="5 3" stroke-opacity="0.8"/>
<circle cx="1205.0" cy="1430.0" r="32.5" fill="none" stroke="#3fa9e8" stroke-width="1.4" stroke-dasharray="5 3" stroke-opacity="0.8"/>
<circle cx="1272.5" cy="1467.5" r="20.0" fill="none" stroke="#3fa9e8" stroke-width="1.4" stroke-dasharray="5 3" stroke-opacity="0.8"/>
<circle cx="1147.5" cy="1397.5" r="9.0" fill="none" stroke="#3fa9e8" stroke-width="1.4" stroke-dasharray="5 3" stroke-opacity="0.8"/>
<circle cx="835.0" cy="1222.5" r="32.5" fill="none" stroke="#3fa9e8" stroke-width="1.4" stroke-dasharray="5 3" stroke-opacity="0.8"/>
</g>
<g filter="url(#bl)">
<polygon points="2302.0,1180.0 2950.0,1178.0 2953.0,1300.0 2937.0,1322.0 2937.0,1410.0 2946.0,1480.0 2946.0,1590.0 2252.0,1592.0 2250.0,1500.0 2262.0,1420.0 2282.0,1397.0 2282.0,1322.0 2262.0,1300.0 2300.0,1240.0" fill="#049fe0"/>
<polygon points="2547.5,1180.0 2730.0,1180.0 2730.0,1235.0 2690.0,1272.5 2615.0,1277.5 2572.5,1242.5 2547.5,1222.5" fill="#1a922f"/>
<polygon points="2460.0,1180.0 2547.5,1180.0 2547.5,1242.5 2480.0,1235.0" fill="#069f8f"/>
<polygon points="2310.0,1180.0 2345.0,1180.0 2345.0,1195.0 2310.0,1197.5" fill="#22994c"/>
<polygon points="2350.0,1520.0 2490.0,1505.0 2730.0,1505.0 2730.0,1595.0 2350.0,1595.0" fill="#069f8f"/>
<polygon points="2380.0,1530.0 2630.0,1530.0 2630.0,1595.0 2380.0,1595.0" fill="#22994c"/>
<polygon points="2615.0,1550.0 2690.0,1550.0 2690.0,1595.0 2615.0,1595.0" fill="#1a922f"/>
<polygon points="2581.0,1180.0 2736.0,1180.0 2731.0,1235.0 2688.5,1277.5 2618.5,1277.5 2581.0,1235.0" fill="#069f8f"/>
<polygon points="2581.0,1180.0 2731.0,1180.0 2686.0,1222.5 2631.0,1242.5 2611.0,1277.5 2581.0,1242.5" fill="#1a922f"/>
<polygon points="2851.0,1560.0 2946.0,1560.0 2946.0,1595.0 2851.0,1595.0" fill="#069f8f"/>
<polygon points="2761.0,1245.0 2796.0,1223.8 2893.5,1226.2 2926.0,1265.0 2936.0,1300.0 2936.0,1325.0 2756.0,1325.0 2753.5,1285.0" fill="#0b3f88"/>
<polygon points="2686.0,1432.5 2936.0,1432.5 2937.2,1492.5 2906.0,1530.0 2771.0,1542.5 2688.5,1522.5" fill="#0b3f88"/>
<polygon points="2282.5,1320.0 2430.0,1310.0 2615.0,1310.0 2730.0,1300.0 2730.0,1435.0 2565.0,1435.0 2415.0,1440.0 2340.0,1460.0 2282.5,1410.0" fill="#02195f"/>
<polygon points="2581.0,1300.0 2643.5,1300.0 2656.0,1335.0 2756.0,1335.0 2761.0,1315.0 2856.0,1320.0 2936.0,1322.5 2936.0,1410.0 2906.0,1435.0 2581.0,1435.0" fill="#02195f"/>
<circle cx="2343.8" cy="1367.5" r="36.2" fill="#02195f"/>
<circle cx="2407.5" cy="1407.5" r="36.2" fill="#02195f"/>
<circle cx="2301.2" cy="1435.0" r="38.8" fill="#02195f"/>
<circle cx="2480.0" cy="1402.5" r="25.0" fill="#02195f"/>
<circle cx="2515.0" cy="1380.0" r="22.5" fill="#02195f"/>
<circle cx="2667.5" cy="1362.5" r="32.5" fill="#02195f"/>
<circle cx="2290.0" cy="1335.0" r="13.8" fill="#02195f"/>
<circle cx="2465.0" cy="1335.0" r="30.0" fill="#02195f"/>
<circle cx="2552.5" cy="1335.0" r="27.5" fill="#02195f"/>
<circle cx="2615.0" cy="1335.0" r="27.5" fill="#02195f"/>
<circle cx="2948.5" cy="1280.0" r="35.0" fill="#02195f"/>
<circle cx="2898.5" cy="1377.5" r="37.5" fill="#02195f"/>
<circle cx="2793.5" cy="1372.5" r="32.5" fill="#02195f"/>
<circle cx="2969.8" cy="1442.5" r="38.8" fill="#02195f"/>
<circle cx="2928.5" cy="1470.0" r="7.5" fill="#02195f"/>
<circle cx="2611.0" cy="1335.0" r="32.5" fill="#02195f"/>
<circle cx="2290.0" cy="1280.0" r="35.0" fill="url(#g5)" stroke="#0a3350" stroke-width="1.6"/>
<circle cx="2402.5" cy="1270.0" r="22.5" fill="#0b3f88"/>
<circle cx="2387.5" cy="1322.5" r="32.5" fill="#0b3f88"/>
<circle cx="2527.5" cy="1307.5" r="20.0" fill="#0b3f88"/>
<circle cx="2360.0" cy="1440.0" r="18.8" fill="#0b3f88"/>
<circle cx="2460.0" cy="1452.5" r="30.0" fill="url(#g6)"/>
<circle cx="2602.5" cy="1447.5" r="20.0" fill="#0b3f88"/>
<circle cx="2560.0" cy="1422.5" r="15.0" fill="#0b3f88"/>
<circle cx="2650.0" cy="1435.0" r="17.5" fill="#0b3f88"/>
<circle cx="2697.5" cy="1435.0" r="22.5" fill="#0b3f88"/>
<circle cx="2273.8" cy="1487.5" r="20.0" fill="#0b3f88"/>
<circle cx="2273.8" cy="1487.5" r="11.2" fill="#052f77"/>
<circle cx="2715.0" cy="1497.5" r="32.5" fill="#0b3f88"/>
<circle cx="2335.0" cy="1320.0" r="17.5" fill="#052f77"/>
<circle cx="2560.0" cy="1223.8" r="7.5" fill="#0b3f88"/>
<circle cx="2801.0" cy="1295.0" r="23.8" fill="#0b3f88"/>
<circle cx="2868.5" cy="1320.0" r="21.2" fill="#0b3f88"/>
<circle cx="2893.5" cy="1290.0" r="18.8" fill="#0b3f88"/>
<circle cx="2806.0" cy="1235.0" r="15.0" fill="#0b3f88"/>
<circle cx="2876.0" cy="1235.0" r="15.0" fill="#0b3f88"/>
<circle cx="2781.0" cy="1447.5" r="25.0" fill="#052f77"/>
<circle cx="2856.0" cy="1442.5" r="22.5" fill="#052f77"/>
<circle cx="2913.5" cy="1460.0" r="22.5" fill="#0b3f88"/>
<circle cx="2918.5" cy="1422.5" r="20.0" fill="#052f77"/>
<circle cx="2913.5" cy="1492.5" r="15.0" fill="#0b3f88"/>
<circle cx="2771.0" cy="1515.0" r="15.0" fill="#0b3f88"/>
<circle cx="2781.0" cy="1265.0" r="20.0" fill="#052f77"/>
<circle cx="2773.5" cy="1322.5" r="17.5" fill="#052f77"/>
<circle cx="2821.0" cy="1317.5" r="18.8" fill="#0b3f88"/>
<circle cx="2898.5" cy="1260.0" r="18.8" fill="#052f77"/>
<circle cx="2846.0" cy="1346.2" r="15.0" fill="#052f77"/>
<circle cx="2726.0" cy="1492.5" r="37.5" fill="#052f77"/>
<circle cx="2821.0" cy="1477.5" r="35.0" fill="#0b3f88"/>
<circle cx="2896.0" cy="1510.0" r="25.0" fill="#052f77"/>
<circle cx="2851.0" cy="1527.5" r="18.8" fill="#052f77"/>
<circle cx="2881.0" cy="1465.0" r="15.0" fill="#0b3f88"/>
<circle cx="2796.0" cy="1535.0" r="17.5" fill="url(#g7)"/>
<circle cx="2781.0" cy="1570.0" r="12.5" fill="#052f77"/>
<circle cx="2928.5" cy="1300.0" r="15.0" fill="url(#g8)"/>
<circle cx="2756.0" cy="1435.0" r="20.0" fill="#052f77"/>
<circle cx="2876.0" cy="1310.0" r="12.5" fill="#049fe0"/>
<circle cx="2878.5" cy="1303.8" r="6.2" fill="#0b3f88"/>
<ellipse cx="2931.0" cy="1535.0" rx="17.5" ry="21.2" fill="#02195f"/>
<polygon points="2946.0,1505.0 2971.0,1505.0 2971.0,1560.0 2946.0,1560.0" fill="#ffffff"/>
<circle cx="2328.8" cy="1223.8" r="28.8" fill="#049fe0" stroke="#0a3350" stroke-width="1.6"/>
<ellipse cx="2363.8" cy="1190.0" rx="20.0" ry="16.2" fill="#049fe0" stroke="#0a3350" stroke-width="1.6"/>
<ellipse cx="2426.2" cy="1210.0" rx="36.2" ry="32.5" fill="#049fe0" stroke="#0a3350" stroke-width="1.6"/>
<ellipse cx="2508.8" cy="1211.2" rx="31.2" ry="30.0" fill="url(#g9)" stroke="#0a3350" stroke-width="1.6"/>
<circle cx="2481.2" cy="1273.8" r="35.0" fill="#049fe0" stroke="#0a3350" stroke-width="1.6"/>
<circle cx="2575.0" cy="1278.8" r="31.2" fill="#049fe0" stroke="#0a3350" stroke-width="1.6"/>
<circle cx="2356.2" cy="1276.2" r="15.0" fill="#049fe0" stroke="#0a3350" stroke-width="1.6"/>
<circle cx="2715.0" cy="1312.5" r="37.5" fill="#049fe0" stroke="#0a3350" stroke-width="1.6"/>
<circle cx="2531.2" cy="1468.8" r="37.5" fill="#049fe0" stroke="#0a3350" stroke-width="1.6"/>
<circle cx="2331.2" cy="1510.0" r="27.5" fill="#049fe0" stroke="#0a3350" stroke-width="1.6"/>
<circle cx="2326.2" cy="1565.0" r="27.5" fill="#049fe0" stroke="#0a3350" stroke-width="1.6"/>
<circle cx="2277.5" cy="1550.0" r="27.5" fill="#049fe0"/>
<circle cx="2600.0" cy="1508.8" r="16.2" fill="#049fe0" stroke="#0a3350" stroke-width="1.6"/>
<circle cx="2766.0" cy="1206.2" r="26.2" fill="url(#g10)" stroke="#0a3350" stroke-width="1.6"/>
<circle cx="2743.5" cy="1245.0" r="18.8" fill="#049fe0" stroke="#0a3350" stroke-width="1.6"/>
<circle cx="2726.0" cy="1365.0" r="11.2" fill="#049fe0"/>
<circle cx="2828.5" cy="1575.0" r="16.2" fill="#049fe0" stroke="#0a3350" stroke-width="1.6"/>
<circle cx="2827.2" cy="1546.2" r="10.0" fill="#049fe0" stroke="#0a3350" stroke-width="1.6"/>
<ellipse cx="2645.0" cy="1203.8" rx="33.8" ry="30.0" fill="#1a922f" stroke="#0c2f2a" stroke-width="1.6"/>
<ellipse cx="2705.0" cy="1195.0" rx="21.2" ry="17.5" fill="#3c9e30" stroke="#0c2f2a" stroke-width="1.6"/>
<circle cx="2563.8" cy="1195.0" r="16.2" fill="#22994c" stroke="#0c2f2a" stroke-width="1.6"/>
<ellipse cx="2430.0" cy="1562.5" rx="38.8" ry="31.2" fill="#1a922f" stroke="#0c2f2a" stroke-width="1.6"/>
<ellipse cx="2525.0" cy="1565.0" rx="32.5" ry="28.8" fill="#1a922f" stroke="#0c2f2a" stroke-width="1.6"/>
<ellipse cx="2595.0" cy="1560.0" rx="32.5" ry="31.2" fill="url(#g11)" stroke="#0c2f2a" stroke-width="1.6"/>
<ellipse cx="2522.5" cy="1521.2" rx="28.8" ry="11.2" fill="#22994c" stroke="#0c2f2a" stroke-width="1.6"/>
<ellipse cx="2652.5" cy="1580.0" rx="23.8" ry="12.5" fill="#3c9e30" stroke="#0c2f2a" stroke-width="1.6"/>
<ellipse cx="2617.5" cy="1241.2" rx="18.8" ry="16.2" fill="#069f8f" stroke="#0c2f2a" stroke-width="1.6"/>
<circle cx="2668.8" cy="1266.2" r="17.5" fill="#069f8f" stroke="#0c2f2a" stroke-width="1.6"/>
<ellipse cx="2416.2" cy="1501.2" rx="32.5" ry="27.5" fill="url(#g12)" stroke="#0c2f2a" stroke-width="1.6"/>
<circle cx="2473.8" cy="1507.5" r="20.0" fill="#069f8f" stroke="#0c2f2a" stroke-width="1.6"/>
<circle cx="2372.5" cy="1480.0" r="16.2" fill="#069f8f" stroke="#0c2f2a" stroke-width="1.6"/>
<ellipse cx="2652.5" cy="1481.2" rx="27.5" ry="26.2" fill="url(#g13)" stroke="#0c2f2a" stroke-width="1.6"/>
<circle cx="2655.0" cy="1535.0" r="25.0" fill="#069f8f" stroke="#0c2f2a" stroke-width="1.6"/>
<circle cx="2378.8" cy="1531.2" r="10.0" fill="#069f8f" stroke="#0c2f2a" stroke-width="1.6"/>
<ellipse cx="2834.8" cy="1201.2" rx="36.2" ry="27.5" fill="#1a922f" stroke="#0c2f2a" stroke-width="1.6"/>
<ellipse cx="2838.5" cy="1266.2" rx="36.2" ry="33.8" fill="#069f8f" stroke="#0c2f2a" stroke-width="1.6"/>
<circle cx="2923.5" cy="1210.0" r="30.0" fill="url(#g14)" stroke="#0c2f2a" stroke-width="1.6"/>
<ellipse cx="2726.0" cy="1562.5" rx="42.5" ry="30.0" fill="#069f8f" stroke="#0c2f2a" stroke-width="1.6"/>
<circle cx="2873.5" cy="1573.8" r="15.0" fill="#1a922f" stroke="#0c2f2a" stroke-width="1.6"/>
<polygon points="2918.5,1560.0 2943.5,1557.5 2941.0,1570.0 2931.0,1575.0" fill="#1a922f"/>
</g>
<g filter="url(#bl)">
<polygon points="690.0,2216.0 1400.0,2214.0 1410.0,2300.0 1416.0,2330.0 1412.0,2370.0 1425.0,2400.0 1425.0,2480.0 1418.0,2515.0 1380.0,2524.0 645.0,2526.0 618.0,2490.0 618.0,2420.0 622.0,2320.0 655.0,2275.0 676.0,2240.0" fill="#1a922f"/>
<polygon points="672.5,2280.0 840.0,2250.0 1080.0,2255.0 1080.0,2462.5 840.0,2462.5 765.0,2425.0 672.5,2450.0" fill="#069f8f"/>
<polygon points="797.5,2310.0 915.0,2290.0 1080.0,2300.0 1080.0,2425.0 980.0,2437.5 885.0,2395.0 810.0,2400.0 740.0,2400.0 740.0,2355.0" fill="#049fe0"/>
<polygon points="685.0,2278.8 720.0,2278.8 720.0,2291.2 685.0,2291.2" fill="#049fe0"/>
<polygon points="1010.0,2255.0 1185.0,2275.0 1335.0,2310.0 1385.0,2345.0 1400.0,2450.0 1335.0,2505.0 1185.0,2500.0 1100.0,2475.0 1010.0,2462.5" fill="#069f8f"/>
<polygon points="1010.0,2300.0 1105.0,2375.0 1185.0,2280.0 1260.0,2290.0 1322.5,2340.0 1400.0,2350.0 1400.0,2445.0 1335.0,2500.0 1210.0,2485.0 1110.0,2470.0 1085.0,2412.5 1010.0,2412.5" fill="#049fe0"/>
<polygon points="1042.5,2482.5 1090.0,2482.5 1090.0,2500.0 1042.5,2500.0" fill="#f0e428"/>
<circle cx="843.8" cy="2358.8" r="18.8" fill="#052f77"/>
<circle cx="880.0" cy="2332.5" r="18.8" fill="#0b3f88"/>
<circle cx="885.0" cy="2375.0" r="22.5" fill="#02195f"/>
<circle cx="925.0" cy="2340.0" r="22.5" fill="#052f77"/>
<circle cx="922.5" cy="2370.0" r="20.0" fill="#02195f"/>
<circle cx="965.0" cy="2347.5" r="17.5" fill="#052f77"/>
<circle cx="965.0" cy="2315.0" r="15.0" fill="#052f77"/>
<circle cx="1015.0" cy="2350.0" r="42.5" fill="#02195f"/>
<circle cx="1040.0" cy="2322.5" r="17.5" fill="#052f77"/>
<circle cx="1040.0" cy="2387.5" r="20.0" fill="#02195f"/>
<circle cx="980.0" cy="2370.0" r="22.5" fill="#02195f"/>
<polygon points="805.0,2347.5 830.0,2350.0 830.0,2362.5" fill="#052f77"/>
<ellipse cx="1090.0" cy="2357.5" rx="40.0" ry="20.0" fill="#052f77"/>
<circle cx="1040.0" cy="2322.5" r="17.5" fill="#052f77"/>
<circle cx="1025.0" cy="2362.5" r="37.5" fill="#02195f"/>
<circle cx="1185.0" cy="2355.0" r="17.5" fill="#052f77"/>
<ellipse cx="1185.0" cy="2397.5" rx="37.5" ry="17.5" fill="#052f77"/>
<circle cx="1247.5" cy="2395.0" r="12.5" fill="#052f77"/>
<circle cx="1152.5" cy="2397.5" r="15.0" fill="#0b3f88"/>
<circle cx="1210.0" cy="2375.0" r="12.5" fill="#052f77"/>
<circle cx="1405.0" cy="2282.5" r="25.0" fill="#052f77"/>
<circle cx="707.5" cy="2245.0" r="31.2" fill="url(#g15)" stroke="#0c2f2a" stroke-width="1.6"/>
<ellipse cx="760.0" cy="2227.5" rx="22.5" ry="16.2" fill="#1a922f" stroke="#0c2f2a" stroke-width="1.6"/>
<ellipse cx="822.5" cy="2241.2" rx="38.8" ry="28.8" fill="url(#g16)" stroke="#0c2f2a" stroke-width="1.6"/>
<ellipse cx="917.5" cy="2236.2" rx="38.8" ry="22.5" fill="#22994c" stroke="#0c2f2a" stroke-width="1.6"/>
<ellipse cx="990.0" cy="2225.0" rx="25.0" ry="15.0" fill="#1a922f" stroke="#0c2f2a" stroke-width="1.6"/>
<circle cx="968.8" cy="2250.0" r="11.2" fill="#069f8f" stroke="#0c2f2a" stroke-width="1.6"/>
<circle cx="648.8" cy="2302.5" r="35.0" fill="#1a922f" stroke="#0c2f2a" stroke-width="1.6"/>
<circle cx="738.8" cy="2285.0" r="16.2" fill="#22994c" stroke="#0c2f2a" stroke-width="1.6"/>
<ellipse cx="873.8" cy="2288.8" rx="36.2" ry="33.8" fill="url(#g17)" stroke="#0c2f2a" stroke-width="1.6"/>
<circle cx="932.5" cy="2290.0" r="21.2" fill="#049fe0" stroke="#0c2f2a" stroke-width="1.6"/>
<ellipse cx="996.2" cy="2281.2" rx="33.8" ry="31.2" fill="url(#g18)" stroke="#0c2f2a" stroke-width="1.6"/>
<ellipse cx="757.5" cy="2327.5" rx="32.5" ry="27.5" fill="#069f8f" stroke="#0c2f2a" stroke-width="1.6"/>
<circle cx="816.2" cy="2306.2" r="16.2" fill="#069f8f" stroke="#0c2f2a" stroke-width="1.6"/>
<circle cx="787.5" cy="2285.0" r="7.5" fill="#069f8f" stroke="#0c2f2a" stroke-width="1.6"/>
<circle cx="697.5" cy="2356.2" r="36.2" fill="url(#g19)" stroke="#0c2f2a" stroke-width="1.6"/>
<circle cx="777.5" cy="2381.2" r="32.5" fill="#049fe0" stroke="#0c2f2a" stroke-width="1.6"/>
<circle cx="651.2" cy="2412.5" r="37.5" fill="#069f8f" stroke="#0c2f2a" stroke-width="1.6"/>
<circle cx="856.2" cy="2411.2" r="27.5" fill="#069f8f" stroke="#0c2f2a" stroke-width="1.6"/>
<circle cx="930.0" cy="2420.0" r="41.2" fill="#069f8f" stroke="#0c2f2a" stroke-width="1.6"/>
<circle cx="987.5" cy="2377.5" r="16.2" fill="url(#g20)" stroke="#0c2f2a" stroke-width="1.6"/>
<circle cx="1001.2" cy="2406.2" r="15.0" fill="#049fe0" stroke="#0c2f2a" stroke-width="1.6"/>
<ellipse cx="710.0" cy="2420.0" rx="17.5" ry="20.0" fill="#1a922f"/>
<circle cx="746.2" cy="2425.0" r="17.5" fill="#1a922f" stroke="#0c2f2a" stroke-width="1.6"/>
<ellipse cx="796.2" cy="2437.5" rx="33.8" ry="25.0" fill="#1a922f" stroke="#0c2f2a" stroke-width="1.6"/>
<ellipse cx="706.2" cy="2457.5" rx="28.8" ry="26.2" fill="#22994c" stroke="#0c2f2a" stroke-width="1.6"/>
<ellipse cx="868.8" cy="2457.5" rx="22.5" ry="21.2" fill="#22994c" stroke="#0c2f2a" stroke-width="1.6"/>
<circle cx="765.0" cy="2477.5" r="15.0" fill="#1a922f" stroke="#0c2f2a" stroke-width="1.6"/>
<ellipse cx="825.0" cy="2492.5" rx="36.2" ry="27.5" fill="#3c9e30" stroke="#0c2f2a" stroke-width="1.6"/>
<ellipse cx="920.0" cy="2468.8" rx="30.0" ry="8.8" fill="#1a922f" stroke="#0c2f2a" stroke-width="1.6"/>
<ellipse cx="931.2" cy="2500.0" rx="33.8" ry="17.5" fill="#f0e428" stroke="#0c2f2a" stroke-width="1.6"/>
<ellipse cx="1005.0" cy="2496.2" rx="35.0" ry="31.2" fill="url(#g21)" stroke="#0c2f2a" stroke-width="1.6"/>
<ellipse cx="1000.0" cy="2442.5" rx="13.8" ry="8.8" fill="#22994c" stroke="#0c2f2a" stroke-width="1.6"/>
<circle cx="660.0" cy="2487.5" r="32.5" fill="url(#g22)"/>
<circle cx="612.5" cy="2455.0" r="15.0" fill="#22994c"/>
<ellipse cx="740.0" cy="2505.0" rx="25.0" ry="12.5" fill="#5ba52b"/>
<circle cx="765.0" cy="2517.5" r="8.8" fill="#069f8f"/>
<circle cx="705.0" cy="2497.5" r="7.5" fill="#22994c" stroke="#0c2f2a" stroke-width="1.6"/>
<ellipse cx="1066.2" cy="2235.0" rx="38.8" ry="22.5" fill="#5ba52b" stroke="#0c2f2a" stroke-width="1.6"/>
<ellipse cx="1128.8" cy="2228.8" rx="21.2" ry="17.5" fill="#1a922f" stroke="#0c2f2a" stroke-width="1.6"/>
<ellipse cx="1200.0" cy="2240.0" rx="22.5" ry="21.2" fill="#1a922f" stroke="#0c2f2a" stroke-width="1.6"/>
<ellipse cx="1277.5" cy="2236.2" rx="37.5" ry="25.0" fill="#5ba52b" stroke="#0c2f2a" stroke-width="1.6"/>
<ellipse cx="1373.8" cy="2246.2" rx="32.5" ry="31.2" fill="url(#g23)" stroke="#0c2f2a" stroke-width="1.6"/>
<ellipse cx="1090.0" cy="2282.5" rx="25.0" ry="17.5" fill="#22994c" stroke="#0c2f2a" stroke-width="1.6"/>
<circle cx="1176.2" cy="2273.8" r="20.0" fill="#1a922f" stroke="#0c2f2a" stroke-width="1.6"/>
<ellipse cx="1238.8" cy="2277.5" rx="20.0" ry="17.5" fill="#22994c" stroke="#0c2f2a" stroke-width="1.6"/>
<ellipse cx="1300.0" cy="2290.0" rx="37.5" ry="35.0" fill="#1a922f" stroke="#0c2f2a" stroke-width="1.6"/>
<circle cx="1358.8" cy="2295.0" r="20.0" fill="#069f8f" stroke="#0c2f2a" stroke-width="1.6"/>
<ellipse cx="1395.0" cy="2322.5" rx="21.2" ry="22.5" fill="#1a922f" stroke="#0c2f2a" stroke-width="1.6"/>
<ellipse cx="1142.5" cy="2322.5" rx="40.0" ry="28.8" fill="url(#g24)" stroke="#0c2f2a" stroke-width="1.6"/>
<ellipse cx="1267.5" cy="2325.0" rx="22.5" ry="12.5" fill="#049fe0" stroke="#0c2f2a" stroke-width="1.6"/>
<circle cx="1222.5" cy="2315.0" r="7.5" fill="#049fe0" stroke="#0c2f2a" stroke-width="1.6"/>
<circle cx="1325.0" cy="2330.0" r="15.0" fill="#1a922f"/>
<circle cx="1355.0" cy="2370.0" r="36.2" fill="#049fe0" stroke="#0c2f2a" stroke-width="1.6"/>
<ellipse cx="1418.8" cy="2407.5" rx="31.2" ry="40.0" fill="url(#g25)" stroke="#0c2f2a" stroke-width="1.6"/>
<ellipse cx="1235.0" cy="2360.0" rx="27.5" ry="22.5" fill="url(#g26)" stroke="#0c2f2a" stroke-width="1.6"/>
<circle cx="1222.5" cy="2423.8" r="18.8" fill="#049fe0" stroke="#0c2f2a" stroke-width="1.6"/>
<ellipse cx="1277.5" cy="2450.0" rx="40.0" ry="36.2" fill="url(#g27)" stroke="#0c2f2a" stroke-width="1.6"/>
<ellipse cx="1147.5" cy="2442.5" rx="43.8" ry="27.5" fill="url(#g28)" stroke="#0c2f2a" stroke-width="1.6"/>
<circle cx="1346.2" cy="2472.5" r="26.2" fill="#049fe0" stroke="#0c2f2a" stroke-width="1.6"/>
<ellipse cx="1063.8" cy="2430.0" rx="31.2" ry="22.5" fill="url(#g29)" stroke="#0c2f2a" stroke-width="1.6"/>
<circle cx="1062.5" cy="2391.2" r="12.5" fill="#049fe0" stroke="#0c2f2a" stroke-width="1.6"/>
<ellipse cx="1110.0" cy="2396.2" rx="22.5" ry="12.5" fill="#049fe0" stroke="#0c2f2a" stroke-width="1.6"/>
<circle cx="1025.0" cy="2427.5" r="10.0" fill="#069f8f" stroke="#0c2f2a" stroke-width="1.6"/>
<circle cx="1068.8" cy="2472.5" r="22.5" fill="#1a922f" stroke="#0c2f2a" stroke-width="1.6"/>
<ellipse cx="1143.8" cy="2500.0" rx="43.8" ry="23.8" fill="#1a922f" stroke="#0c2f2a" stroke-width="1.6"/>
<ellipse cx="1065.0" cy="2512.5" rx="26.2" ry="11.2" fill="#1a922f" stroke="#0c2f2a" stroke-width="1.6"/>
<circle cx="1225.0" cy="2488.8" r="12.5" fill="url(#g30)" stroke="#0c2f2a" stroke-width="1.6"/>
<circle cx="1203.8" cy="2510.0" r="11.2" fill="#069f8f" stroke="#0c2f2a" stroke-width="1.6"/>
<ellipse cx="1272.5" cy="2510.0" rx="20.0" ry="12.5" fill="#1a922f" stroke="#0c2f2a" stroke-width="1.6"/>
<circle cx="1307.5" cy="2495.0" r="12.5" fill="#069f8f" stroke="#0c2f2a" stroke-width="1.6"/>
<circle cx="1192.5" cy="2467.5" r="17.5" fill="#1a922f"/>
<circle cx="1227.5" cy="2455.0" r="10.0" fill="#1a922f"/>
<ellipse cx="1392.5" cy="2457.5" rx="32.5" ry="22.5" fill="#1a922f"/>
<circle cx="1380.0" cy="2455.0" r="7.5" fill="#22994c" stroke="#0c2f2a" stroke-width="1.6"/>
<ellipse cx="1385.0" cy="2505.0" rx="30.0" ry="12.5" fill="#5ba52b"/>
<ellipse cx="1390.0" cy="2510.0" rx="15.0" ry="6.2" fill="#f0e428"/>
<ellipse cx="1415.0" cy="2490.0" rx="8.0" ry="6.5" fill="#f0e428" stroke="#3a2a00" stroke-width="1.6" transform="rotate(-30 1415.0 2490.0)"/>
<ellipse cx="1235.0" cy="2512.5" rx="20.0" ry="8.8" fill="#1a922f"/>
</g>
<g filter="url(#bl)">
<polygon points="2168.0,2266.0 3035.0,2266.0 3039.0,2300.0 3040.0,2440.0 3036.0,2467.0 2153.0,2468.0 2150.0,2440.0 2153.0,2300.0" fill="#20942f"/>
<polygon points="2315.0,2350.0 2465.0,2300.0 2630.0,2300.0 2630.0,2420.0 2515.0,2430.0 2365.0,2410.0 2270.0,2380.0" fill="#069f8f"/>
<polygon points="2415.0,2355.0 2630.0,2340.0 2630.0,2390.0 2440.0,2380.0" fill="#049fe0"/>
<polygon points="2552.5,2345.0 2630.0,2340.0 2630.0,2382.5 2565.0,2380.0" fill="#02195f"/>
<polygon points="2581.0,2300.0 2806.0,2310.0 2931.0,2340.0 3031.0,2355.0 3031.0,2430.0 2806.0,2430.0 2581.0,2420.0" fill="#069f8f"/>
<polygon points="2581.0,2342.5 2631.0,2350.0 2646.0,2370.0 2631.0,2387.5 2581.0,2387.5" fill="#02195f"/>
<polygon points="2776.0,2355.0 2806.0,2340.0 2881.0,2342.5 2906.0,2370.0 2881.0,2392.5 2781.0,2395.0" fill="#049fe0"/>
<ellipse cx="2173.8" cy="2337.5" rx="22.5" ry="40.0" fill="#3c9e30" stroke="#14361a" stroke-width="1.6"/>
<ellipse cx="2186.2" cy="2423.8" rx="25.0" ry="41.2" fill="#1a922f" stroke="#14361a" stroke-width="1.6"/>
<ellipse cx="2163.8" cy="2451.2" rx="13.8" ry="18.8" fill="#1a922f" stroke="#14361a" stroke-width="1.6"/>
<ellipse cx="2232.5" cy="2295.0" rx="31.2" ry="27.5" fill="url(#g31)" stroke="#14361a" stroke-width="1.6"/>
<ellipse cx="2230.0" cy="2363.8" rx="33.8" ry="36.2" fill="#1a922f" stroke="#14361a" stroke-width="1.6"/>
<ellipse cx="2238.8" cy="2426.2" rx="25.0" ry="23.8" fill="#3c9e30" stroke="#14361a" stroke-width="1.6"/>
<ellipse cx="2245.0" cy="2455.0" rx="25.0" ry="8.8" fill="#1a922f" stroke="#14361a" stroke-width="1.6"/>
<ellipse cx="2310.0" cy="2280.0" rx="28.8" ry="12.5" fill="#3c9e30" stroke="#14361a" stroke-width="1.6"/>
<ellipse cx="2295.0" cy="2340.0" rx="37.5" ry="26.2" fill="#1a922f" stroke="#14361a" stroke-width="1.6"/>
<ellipse cx="2302.5" cy="2382.5" rx="25.0" ry="12.5" fill="#22994c" stroke="#14361a" stroke-width="1.6"/>
<ellipse cx="2285.0" cy="2408.8" rx="12.5" ry="11.2" fill="#1a922f" stroke="#14361a" stroke-width="1.6"/>
<ellipse cx="2340.0" cy="2412.5" rx="36.2" ry="17.5" fill="url(#g32)" stroke="#14361a" stroke-width="1.6"/>
<ellipse cx="2290.0" cy="2440.0" rx="13.8" ry="13.8" fill="url(#g33)" stroke="#14361a" stroke-width="1.6"/>
<ellipse cx="2317.5" cy="2453.8" rx="21.2" ry="12.5" fill="#3c9e30" stroke="#14361a" stroke-width="1.6"/>
<ellipse cx="2381.2" cy="2292.5" rx="43.8" ry="26.2" fill="url(#g34)" stroke="#14361a" stroke-width="1.6"/>
<ellipse cx="2361.2" cy="2332.5" rx="22.5" ry="12.5" fill="#1a922f" stroke="#14361a" stroke-width="1.6"/>
<ellipse cx="2432.5" cy="2322.5" rx="41.2" ry="26.2" fill="#1a922f" stroke="#14361a" stroke-width="1.6"/>
<ellipse cx="2490.0" cy="2283.8" rx="47.5" ry="16.2" fill="url(#g35)" stroke="#14361a" stroke-width="1.6"/>
<ellipse cx="2497.5" cy="2400.0" rx="47.5" ry="30.0" fill="#22994c" stroke="#14361a" stroke-width="1.6"/>
<ellipse cx="2417.5" cy="2397.5" rx="17.5" ry="13.8" fill="#22994c" stroke="#14361a" stroke-width="1.6"/>
<ellipse cx="2437.5" cy="2428.8" rx="21.2" ry="16.2" fill="#1a922f" stroke="#14361a" stroke-width="1.6"/>
<ellipse cx="2580.0" cy="2316.2" rx="41.2" ry="26.2" fill="#22994c" stroke="#14361a" stroke-width="1.6"/>
<ellipse cx="2545.0" cy="2297.5" rx="15.0" ry="8.8" fill="#1a922f" stroke="#14361a" stroke-width="1.6"/>
<ellipse cx="2540.0" cy="2425.0" rx="13.8" ry="12.5" fill="#1a922f" stroke="#14361a" stroke-width="1.6"/>
<ellipse cx="2485.0" cy="2437.5" rx="30.0" ry="6.2" fill="#3c9e30" stroke="#14361a" stroke-width="1.6"/>
<ellipse cx="2590.0" cy="2401.2" rx="17.5" ry="11.2" fill="#22994c" stroke="#14361a" stroke-width="1.6"/>
<ellipse cx="2567.5" cy="2415.0" rx="15.0" ry="7.5" fill="#1a922f" stroke="#14361a" stroke-width="1.6"/>
<ellipse cx="2348.8" cy="2361.2" rx="20.0" ry="13.8" fill="#069f8f" stroke="#14361a" stroke-width="1.6"/>
<ellipse cx="2387.5" cy="2361.2" rx="17.5" ry="13.8" fill="#069f8f" stroke="#14361a" stroke-width="1.6"/>
<ellipse cx="2385.0" cy="2391.2" rx="13.8" ry="11.2" fill="#069f8f" stroke="#14361a" stroke-width="1.6"/>
<ellipse cx="2412.5" cy="2373.8" rx="15.0" ry="10.0" fill="#22994c" stroke="#14361a" stroke-width="1.6"/>
<ellipse cx="2505.0" cy="2315.0" rx="27.5" ry="11.2" fill="url(#g36)" stroke="#14361a" stroke-width="1.6"/>
<ellipse cx="2552.5" cy="2397.5" rx="12.5" ry="12.5" fill="#069f8f" stroke="#14361a" stroke-width="1.6"/>
<ellipse cx="2495.0" cy="2346.2" rx="33.8" ry="18.8" fill="#049fe0" stroke="#14361a" stroke-width="1.6"/>
<ellipse cx="2535.0" cy="2361.2" rx="13.8" ry="10.0" fill="#049fe0" stroke="#14361a" stroke-width="1.6"/>
<ellipse cx="2562.5" cy="2371.2" rx="25.0" ry="10.0" fill="#049fe0" stroke="#14361a" stroke-width="1.6"/>
<ellipse cx="2440.0" cy="2355.0" rx="22.5" ry="6.2" fill="#049fe0"/>
<ellipse cx="2540.0" cy="2335.0" rx="10.0" ry="7.5" fill="#049fe0" stroke="#14361a" stroke-width="1.6"/>
<ellipse cx="2572.5" cy="2390.0" rx="11.2" ry="5.0" fill="#049fe0" stroke="#14361a" stroke-width="1.6"/>
<ellipse cx="2452.5" cy="2370.0" rx="20.0" ry="11.2" fill="url(#g37)" stroke="#14361a" stroke-width="1.6"/>
<ellipse cx="2607.5" cy="2380.0" rx="22.5" ry="10.0" fill="#0b3f88"/>
<ellipse cx="2383.8" cy="2446.2" rx="41.2" ry="21.2" fill="url(#g38)" stroke="#5a2a00" stroke-width="1.6"/>
<ellipse cx="2497.5" cy="2455.0" rx="48.8" ry="10.0" fill="url(#g39)" stroke="#5a1a00" stroke-width="1.6"/>
<ellipse cx="2585.0" cy="2446.2" rx="38.8" ry="21.2" fill="url(#g40)" stroke="#4a3a00" stroke-width="1.6"/>
<ellipse cx="2572.5" cy="2278.8" rx="26.2" ry="10.0" fill="url(#g41)" stroke="#14361a" stroke-width="1.6"/>
<ellipse cx="2210.0" cy="2457.5" rx="7.5" ry="7.5" fill="#f0e428"/>
<ellipse cx="2653.5" cy="2285.0" rx="45.0" ry="17.5" fill="url(#g42)" stroke="#5a2a00" stroke-width="1.6"/>
<ellipse cx="2717.2" cy="2278.8" rx="16.2" ry="11.2" fill="#f0e428" stroke="#14361a" stroke-width="1.6"/>
<ellipse cx="2751.0" cy="2277.5" rx="10.0" ry="6.2" fill="#1a922f" stroke="#14361a" stroke-width="1.6"/>
<ellipse cx="2798.5" cy="2280.0" rx="36.2" ry="15.0" fill="#3c9e30" stroke="#14361a" stroke-width="1.6"/>
<ellipse cx="2888.5" cy="2281.2" rx="51.2" ry="13.8" fill="url(#g43)" stroke="#5a2a00" stroke-width="1.6"/>
<ellipse cx="2953.5" cy="2273.8" rx="10.0" ry="6.2" fill="url(#g44)" stroke="#14361a" stroke-width="1.6"/>
<ellipse cx="3003.5" cy="2290.0" rx="36.2" ry="25.0" fill="url(#g45)" stroke="#14361a" stroke-width="1.6"/>
<ellipse cx="2722.2" cy="2300.0" rx="10.0" ry="5.0" fill="#f0e428" stroke="#14361a" stroke-width="1.6"/>
<ellipse cx="2686.0" cy="2317.5" rx="33.8" ry="13.8" fill="#1a922f" stroke="#14361a" stroke-width="1.6"/>
<ellipse cx="2773.5" cy="2307.5" rx="31.2" ry="17.5" fill="#1a922f" stroke="#14361a" stroke-width="1.6"/>
<ellipse cx="2849.8" cy="2305.0" rx="30.0" ry="10.0" fill="#1a922f" stroke="#14361a" stroke-width="1.6"/>
<ellipse cx="2923.5" cy="2315.0" rx="42.5" ry="25.0" fill="#3c9e30" stroke="#14361a" stroke-width="1.6" transform="rotate(-15 2923.5 2315.0)"/>
<ellipse cx="2983.5" cy="2325.0" rx="20.0" ry="17.5" fill="#1a922f" stroke="#14361a" stroke-width="1.6"/>
<ellipse cx="3022.2" cy="2335.0" rx="15.0" ry="16.2" fill="#1a922f" stroke="#14361a" stroke-width="1.6"/>
<ellipse cx="2946.0" cy="2338.8" rx="25.0" ry="8.8" fill="#3c9e30" stroke="#14361a" stroke-width="1.6" transform="rotate(-20 2946.0 2338.8)"/>
<ellipse cx="2738.5" cy="2340.0" rx="48.8" ry="18.8" fill="#22994c" stroke="#14361a" stroke-width="1.6"/>
<ellipse cx="2831.0" cy="2327.5" rx="27.5" ry="11.2" fill="#069f8f" stroke="#14361a" stroke-width="1.6"/>
<ellipse cx="2873.5" cy="2332.5" rx="12.5" ry="12.5" fill="#069f8f" stroke="#14361a" stroke-width="1.6"/>
<ellipse cx="2837.2" cy="2357.5" rx="36.2" ry="17.5" fill="#049fe0" stroke="#14361a" stroke-width="1.6"/>
<ellipse cx="2901.0" cy="2355.0" rx="15.0" ry="10.0" fill="#069f8f" stroke="#14361a" stroke-width="1.6"/>
<ellipse cx="2963.5" cy="2368.8" rx="43.8" ry="27.5" fill="#069f8f" stroke="#14361a" stroke-width="1.6"/>
<ellipse cx="3017.2" cy="2395.0" rx="23.8" ry="41.2" fill="url(#g46)" stroke="#14361a" stroke-width="1.6"/>
<ellipse cx="2756.0" cy="2373.8" rx="22.5" ry="11.2" fill="url(#g47)" stroke="#14361a" stroke-width="1.6"/>
<ellipse cx="2801.0" cy="2380.0" rx="20.0" ry="11.2" fill="url(#g48)" stroke="#14361a" stroke-width="1.6"/>
<circle cx="2788.5" cy="2360.0" r="8.8" fill="#0b3f88"/>
<ellipse cx="2831.0" cy="2395.0" rx="22.5" ry="13.8" fill="#069f8f" stroke="#14361a" stroke-width="1.6"/>
<ellipse cx="2876.0" cy="2377.5" rx="12.5" ry="7.5" fill="#049fe0" stroke="#14361a" stroke-width="1.6"/>
<ellipse cx="2671.0" cy="2365.0" rx="45.0" ry="16.2" fill="#052f77" stroke="#041040" stroke-width="1.6"/>
<ellipse cx="2598.5" cy="2360.0" rx="27.5" ry="15.0" fill="#02195f"/>
<ellipse cx="2623.5" cy="2332.5" rx="15.0" ry="12.5" fill="url(#g49)" stroke="#14361a" stroke-width="1.6" transform="rotate(-35 2623.5 2332.5)"/>
<ellipse cx="2606.0" cy="2380.0" rx="20.0" ry="10.0" fill="#052f77"/>
<ellipse cx="2638.5" cy="2380.0" rx="20.0" ry="5.5" fill="#049fe0"/>
<ellipse cx="2566.0" cy="2352.5" rx="20.0" ry="7.5" fill="#02195f" transform="rotate(-40 2566.0 2352.5)"/>
<ellipse cx="2566.0" cy="2362.5" rx="22.5" ry="7.5" fill="#02195f" transform="rotate(30 2566.0 2362.5)"/>
<ellipse cx="2646.0" cy="2405.0" rx="31.2" ry="15.0" fill="#1a922f" stroke="#14361a" stroke-width="1.6"/>
<ellipse cx="2591.0" cy="2400.0" rx="15.0" ry="10.0" fill="#22994c" stroke="#14361a" stroke-width="1.6"/>
<ellipse cx="2738.5" cy="2411.2" rx="53.8" ry="20.0" fill="#22994c" stroke="#14361a" stroke-width="1.6"/>
<ellipse cx="2879.8" cy="2421.2" rx="42.5" ry="28.8" fill="#22994c" stroke="#14361a" stroke-width="1.6"/>
<ellipse cx="2949.8" cy="2440.0" rx="26.2" ry="21.2" fill="#22994c" stroke="#14361a" stroke-width="1.6"/>
<ellipse cx="2976.0" cy="2407.5" rx="10.0" ry="12.5" fill="#069f8f" stroke="#14361a" stroke-width="1.6"/>
<ellipse cx="2936.0" cy="2405.0" rx="12.5" ry="7.5" fill="#069f8f" stroke="#14361a" stroke-width="1.6"/>
<ellipse cx="2656.0" cy="2430.0" rx="12.5" ry="5.0" fill="#1a922f" stroke="#14361a" stroke-width="1.6"/>
<ellipse cx="2653.5" cy="2442.5" rx="11.2" ry="6.2" fill="url(#g50)" stroke="#5a1a00" stroke-width="1.6"/>
<ellipse cx="2651.0" cy="2456.2" rx="27.5" ry="7.5" fill="url(#g51)" stroke="#4a3a00" stroke-width="1.6"/>
<ellipse cx="2677.2" cy="2438.8" rx="10.0" ry="8.8" fill="#1a922f" stroke="#14361a" stroke-width="1.6"/>
<ellipse cx="2731.0" cy="2448.8" rx="43.8" ry="16.2" fill="url(#g52)" stroke="#14361a" stroke-width="1.6"/>
<ellipse cx="2791.0" cy="2432.5" rx="17.5" ry="7.5" fill="#3c9e30" stroke="#14361a" stroke-width="1.6"/>
<ellipse cx="2813.5" cy="2442.5" rx="22.5" ry="11.2" fill="#1a922f" stroke="#14361a" stroke-width="1.6"/>
<ellipse cx="2798.5" cy="2460.0" rx="18.8" ry="6.2" fill="#1a922f" stroke="#14361a" stroke-width="1.6"/>
<ellipse cx="2871.0" cy="2460.0" rx="22.5" ry="7.5" fill="#1a922f" stroke="#14361a" stroke-width="1.6"/>
<ellipse cx="2913.5" cy="2455.0" rx="8.8" ry="10.0" fill="#1a922f" stroke="#14361a" stroke-width="1.6"/>
<ellipse cx="3011.0" cy="2450.0" rx="23.8" ry="15.0" fill="url(#g53)" stroke="#5a1a00" stroke-width="1.6"/>
<circle cx="2981.0" cy="2457.5" r="7.5" fill="#3c9e30"/>
</g>
<rect x="39" y="17" width="477" height="751" fill="#fff"/>
<line x1="39" y1="17" x2="516" y2="17" stroke="#6f7173" stroke-width="2.5"/>
<line x1="516" y1="17" x2="516" y2="768" stroke="#7b7d80" stroke-width="2.5"/>
<line x1="39" y1="768" x2="516" y2="768" stroke="#3a3a3c" stroke-width="3"/>
<line x1="39" y1="16" x2="39" y2="769.5" stroke="#222" stroke-width="3.5"/>
<rect x="80" y="141.5" width="63" height="42.2" fill="#d0d1d3"/>
<rect x="80" y="183.2" width="63" height="42.2" fill="#e10f1c"/>
<rect x="80" y="224.9" width="63" height="42.2" fill="#ef4a1e"/>
<rect x="80" y="266.6" width="63" height="42.2" fill="#f8951d"/>
<rect x="80" y="308.4" width="63" height="42.2" fill="#f1e521"/>
<rect x="80" y="350.1" width="63" height="42.2" fill="#7fba2a"/>
<rect x="80" y="391.8" width="63" height="42.2" fill="#1f9b39"/>
<rect x="80" y="433.5" width="63" height="42.2" fill="#1e9737"/>
<rect x="80" y="475.2" width="63" height="42.2" fill="#2ba052"/>
<rect x="80" y="516.9" width="63" height="42.2" fill="#1aa59b"/>
<rect x="80" y="558.6" width="63" height="42.2" fill="#14a2e2"/>
<rect x="80" y="600.4" width="63" height="42.2" fill="#0b4c9c"/>
<rect x="80" y="642.1" width="63" height="42.2" fill="#021a68"/>
<rect x="80" y="683.8" width="63" height="42.2" fill="#37383a"/>
<path d="M80 475.2 V141.5 H143 V475.2" fill="none" stroke="#1b1b1d" stroke-width="3" stroke-opacity="0.9"/>
<path d="M80 475.2 V725.5 H143 V475.2" fill="none" stroke="#222c40" stroke-width="2.2" stroke-opacity="0.8"/>
<line x1="80" y1="183.2" x2="143" y2="183.2" stroke="#1d1d1f" stroke-width="1.6" stroke-opacity="0.8"/>
<line x1="143" y1="183.2" x2="164" y2="183.2" stroke="#161616" stroke-width="3"/>
<line x1="80" y1="224.9" x2="143" y2="224.9" stroke="#1d1d1f" stroke-width="1.6" stroke-opacity="0.8"/>
<line x1="143" y1="224.9" x2="164" y2="224.9" stroke="#161616" stroke-width="3"/>
<line x1="80" y1="266.6" x2="143" y2="266.6" stroke="#1d1d1f" stroke-width="1.6" stroke-opacity="0.8"/>
<line x1="143" y1="266.6" x2="164" y2="266.6" stroke="#161616" stroke-width="3"/>
<line x1="80" y1="308.4" x2="143" y2="308.4" stroke="#1d1d1f" stroke-width="1.6" stroke-opacity="0.8"/>
<line x1="143" y1="308.4" x2="164" y2="308.4" stroke="#161616" stroke-width="3"/>
<line x1="80" y1="350.1" x2="143" y2="350.1" stroke="#1d1d1f" stroke-width="1.6" stroke-opacity="0.8"/>
<line x1="143" y1="350.1" x2="164" y2="350.1" stroke="#161616" stroke-width="3"/>
<line x1="80" y1="391.8" x2="143" y2="391.8" stroke="#1d1d1f" stroke-width="1.6" stroke-opacity="0.8"/>
<line x1="143" y1="391.8" x2="164" y2="391.8" stroke="#161616" stroke-width="3"/>
<line x1="80" y1="433.5" x2="143" y2="433.5" stroke="#1d1d1f" stroke-width="1.6" stroke-opacity="0.8"/>
<line x1="143" y1="433.5" x2="164" y2="433.5" stroke="#161616" stroke-width="3"/>
<line x1="80" y1="475.2" x2="143" y2="475.2" stroke="#1d1d1f" stroke-width="1.6" stroke-opacity="0.8"/>
<line x1="143" y1="475.2" x2="164" y2="475.2" stroke="#161616" stroke-width="3"/>
<line x1="143" y1="516.9" x2="164" y2="516.9" stroke="#8a8c90" stroke-width="2.2"/>
<line x1="143" y1="558.6" x2="164" y2="558.6" stroke="#8a8c90" stroke-width="2.2"/>
<line x1="143" y1="600.4" x2="164" y2="600.4" stroke="#8a8c90" stroke-width="2.2"/>
<line x1="143" y1="642.1" x2="164" y2="642.1" stroke="#8a8c90" stroke-width="2.2"/>
<line x1="143" y1="683.8" x2="164" y2="683.8" stroke="#8a8c90" stroke-width="2.2"/>
<text class="n" x="197" y="198.5" textLength="116" lengthAdjust="spacingAndGlyphs">+1.310</text>
<text class="x" x="319.5" y="206.5">×</text>
<text class="n" x="366.5" y="198.5" textLength="40" lengthAdjust="spacingAndGlyphs">10</text>
<text class="s" x="407" y="179.0">−2</text>
<text class="n" x="197" y="239.9" textLength="116" lengthAdjust="spacingAndGlyphs">+1.200</text>
<text class="x" x="319.5" y="247.9">×</text>
<text class="n" x="366.5" y="239.9" textLength="40" lengthAdjust="spacingAndGlyphs">10</text>
<text class="s" x="407" y="220.4">−2</text>
<text class="n" x="197" y="281.4" textLength="116" lengthAdjust="spacingAndGlyphs">+1.091</text>
<text class="x" x="319.5" y="289.4">×</text>
<text class="n" x="366.5" y="281.4" textLength="40" lengthAdjust="spacingAndGlyphs">10</text>
<text class="s" x="407" y="261.9">−2</text>
<text class="n" x="197" y="322.8" textLength="116" lengthAdjust="spacingAndGlyphs">+9.822</text>
<text class="x" x="319.5" y="330.8">×</text>
<text class="n" x="366.5" y="322.8" textLength="40" lengthAdjust="spacingAndGlyphs">10</text>
<text class="s" x="407" y="303.3">−3</text>
<text class="n" x="197" y="364.2" textLength="116" lengthAdjust="spacingAndGlyphs">+8.731</text>
<text class="x" x="319.5" y="372.2">×</text>
<text class="n" x="366.5" y="364.2" textLength="40" lengthAdjust="spacingAndGlyphs">10</text>
<text class="s" x="407" y="344.7">−3</text>
<text class="n" x="197" y="405.7" textLength="116" lengthAdjust="spacingAndGlyphs">+7.639</text>
<text class="x" x="319.5" y="413.7">×</text>
<text class="n" x="366.5" y="405.7" textLength="40" lengthAdjust="spacingAndGlyphs">10</text>
<text class="s" x="407" y="386.2">−3</text>
<text class="n" x="197" y="447.1" textLength="116" lengthAdjust="spacingAndGlyphs">+6.548</text>
<text class="x" x="319.5" y="455.1">×</text>
<text class="n" x="366.5" y="447.1" textLength="40" lengthAdjust="spacingAndGlyphs">10</text>
<text class="s" x="407" y="427.6">−3</text>
<text class="n" x="197" y="488.5" textLength="116" lengthAdjust="spacingAndGlyphs">+5.457</text>
<text class="x" x="319.5" y="496.5">×</text>
<text class="n" x="366.5" y="488.5" textLength="40" lengthAdjust="spacingAndGlyphs">10</text>
<text class="s" x="407" y="469.0">−3</text>
<text class="n" x="197" y="530.0" textLength="116" lengthAdjust="spacingAndGlyphs">+4.365</text>
<text class="x" x="319.5" y="538.0">×</text>
<text class="n" x="366.5" y="530.0" textLength="40" lengthAdjust="spacingAndGlyphs">10</text>
<text class="s" x="407" y="510.5">−3</text>
<text class="n" x="197" y="571.4" textLength="116" lengthAdjust="spacingAndGlyphs">+3.274</text>
<text class="x" x="319.5" y="579.4">×</text>
<text class="n" x="366.5" y="571.4" textLength="40" lengthAdjust="spacingAndGlyphs">10</text>
<text class="s" x="407" y="551.9">−3</text>
<text class="n" x="197" y="612.8" textLength="116" lengthAdjust="spacingAndGlyphs">+2.183</text>
<text class="x" x="319.5" y="620.8">×</text>
<text class="n" x="366.5" y="612.8" textLength="40" lengthAdjust="spacingAndGlyphs">10</text>
<text class="s" x="407" y="593.3">−3</text>
<text class="n" x="197" y="654.3" textLength="116" lengthAdjust="spacingAndGlyphs">+1.091</text>
<text class="x" x="319.5" y="662.3">×</text>
<text class="n" x="366.5" y="654.3" textLength="40" lengthAdjust="spacingAndGlyphs">10</text>
<text class="s" x="407" y="634.8">−3</text>
<text class="n" x="218.5" y="695.7">0</text>
<text class="h" x="69" y="116">位移</text>
<rect x="1626" y="17" width="476.5" height="751" fill="#fff"/>
<line x1="1626" y1="17" x2="2102.5" y2="17" stroke="#6f7173" stroke-width="2.5"/>
<line x1="2102.5" y1="17" x2="2102.5" y2="768" stroke="#7b7d80" stroke-width="2.5"/>
<line x1="1626" y1="768" x2="2102.5" y2="768" stroke="#3a3a3c" stroke-width="3"/>
<line x1="1626" y1="16" x2="1626" y2="769.5" stroke="#222" stroke-width="3.5"/>
<rect x="1667" y="141.5" width="65" height="42.2" fill="#d0d1d3"/>
<rect x="1667" y="183.2" width="65" height="42.2" fill="#e10f1c"/>
<rect x="1667" y="224.9" width="65" height="42.2" fill="#ef4a1e"/>
<rect x="1667" y="266.6" width="65" height="42.2" fill="#f8951d"/>
<rect x="1667" y="308.4" width="65" height="42.2" fill="#f1e521"/>
<rect x="1667" y="350.1" width="65" height="42.2" fill="#7fba2a"/>
<rect x="1667" y="391.8" width="65" height="42.2" fill="#1f9b39"/>
<rect x="1667" y="433.5" width="65" height="42.2" fill="#1e9737"/>
<rect x="1667" y="475.2" width="65" height="42.2" fill="#2ba052"/>
<rect x="1667" y="516.9" width="65" height="42.2" fill="#1aa59b"/>
<rect x="1667" y="558.6" width="65" height="42.2" fill="#14a2e2"/>
<rect x="1667" y="600.4" width="65" height="42.2" fill="#0b4c9c"/>
<rect x="1667" y="642.1" width="65" height="42.2" fill="#021a68"/>
<rect x="1667" y="683.8" width="65" height="42.2" fill="#37383a"/>
<path d="M1667 475.2 V141.5 H1732 V475.2" fill="none" stroke="#1b1b1d" stroke-width="3" stroke-opacity="0.9"/>
<path d="M1667 475.2 V725.5 H1732 V475.2" fill="none" stroke="#222c40" stroke-width="2.2" stroke-opacity="0.8"/>
<line x1="1667" y1="183.2" x2="1732" y2="183.2" stroke="#1d1d1f" stroke-width="1.6" stroke-opacity="0.8"/>
<line x1="1732" y1="183.2" x2="1753" y2="183.2" stroke="#161616" stroke-width="3"/>
<line x1="1667" y1="224.9" x2="1732" y2="224.9" stroke="#1d1d1f" stroke-width="1.6" stroke-opacity="0.8"/>
<line x1="1732" y1="224.9" x2="1753" y2="224.9" stroke="#161616" stroke-width="3"/>
<line x1="1667" y1="266.6" x2="1732" y2="266.6" stroke="#1d1d1f" stroke-width="1.6" stroke-opacity="0.8"/>
<line x1="1732" y1="266.6" x2="1753" y2="266.6" stroke="#161616" stroke-width="3"/>
<line x1="1667" y1="308.4" x2="1732" y2="308.4" stroke="#1d1d1f" stroke-width="1.6" stroke-opacity="0.8"/>
<line x1="1732" y1="308.4" x2="1753" y2="308.4" stroke="#161616" stroke-width="3"/>
<line x1="1667" y1="350.1" x2="1732" y2="350.1" stroke="#1d1d1f" stroke-width="1.6" stroke-opacity="0.8"/>
<line x1="1732" y1="350.1" x2="1753" y2="350.1" stroke="#161616" stroke-width="3"/>
<line x1="1667" y1="391.8" x2="1732" y2="391.8" stroke="#1d1d1f" stroke-width="1.6" stroke-opacity="0.8"/>
<line x1="1732" y1="391.8" x2="1753" y2="391.8" stroke="#161616" stroke-width="3"/>
<line x1="1667" y1="433.5" x2="1732" y2="433.5" stroke="#1d1d1f" stroke-width="1.6" stroke-opacity="0.8"/>
<line x1="1732" y1="433.5" x2="1753" y2="433.5" stroke="#161616" stroke-width="3"/>
<line x1="1667" y1="475.2" x2="1732" y2="475.2" stroke="#1d1d1f" stroke-width="1.6" stroke-opacity="0.8"/>
<line x1="1732" y1="475.2" x2="1753" y2="475.2" stroke="#161616" stroke-width="3"/>
<line x1="1732" y1="516.9" x2="1753" y2="516.9" stroke="#8a8c90" stroke-width="2.2"/>
<line x1="1732" y1="558.6" x2="1753" y2="558.6" stroke="#8a8c90" stroke-width="2.2"/>
<line x1="1732" y1="600.4" x2="1753" y2="600.4" stroke="#8a8c90" stroke-width="2.2"/>
<line x1="1732" y1="642.1" x2="1753" y2="642.1" stroke="#8a8c90" stroke-width="2.2"/>
<line x1="1732" y1="683.8" x2="1753" y2="683.8" stroke="#8a8c90" stroke-width="2.2"/>
<text class="n" x="1775.6" y="198.5" textLength="116" lengthAdjust="spacingAndGlyphs">+1.310</text>
<text class="x" x="1898.1" y="206.5">×</text>
<text class="n" x="1945.1" y="198.5" textLength="40" lengthAdjust="spacingAndGlyphs">10</text>
<text class="s" x="1985.6" y="179.0">−2</text>
<text class="n" x="1775.6" y="239.9" textLength="116" lengthAdjust="spacingAndGlyphs">+1.200</text>
<text class="x" x="1898.1" y="247.9">×</text>
<text class="n" x="1945.1" y="239.9" textLength="40" lengthAdjust="spacingAndGlyphs">10</text>
<text class="s" x="1985.6" y="220.4">−2</text>
<text class="n" x="1775.6" y="281.4" textLength="116" lengthAdjust="spacingAndGlyphs">+1.091</text>
<text class="x" x="1898.1" y="289.4">×</text>
<text class="n" x="1945.1" y="281.4" textLength="40" lengthAdjust="spacingAndGlyphs">10</text>
<text class="s" x="1985.6" y="261.9">−2</text>
<text class="n" x="1775.6" y="322.8" textLength="116" lengthAdjust="spacingAndGlyphs">+9.822</text>
<text class="x" x="1898.1" y="330.8">×</text>
<text class="n" x="1945.1" y="322.8" textLength="40" lengthAdjust="spacingAndGlyphs">10</text>
<text class="s" x="1985.6" y="303.3">−3</text>
<text class="n" x="1775.6" y="364.2" textLength="116" lengthAdjust="spacingAndGlyphs">+8.731</text>
<text class="x" x="1898.1" y="372.2">×</text>
<text class="n" x="1945.1" y="364.2" textLength="40" lengthAdjust="spacingAndGlyphs">10</text>
<text class="s" x="1985.6" y="344.7">−3</text>
<text class="n" x="1775.6" y="405.7" textLength="116" lengthAdjust="spacingAndGlyphs">+7.639</text>
<text class="x" x="1898.1" y="413.7">×</text>
<text class="n" x="1945.1" y="405.7" textLength="40" lengthAdjust="spacingAndGlyphs">10</text>
<text class="s" x="1985.6" y="386.2">−3</text>
<text class="n" x="1775.6" y="447.1" textLength="116" lengthAdjust="spacingAndGlyphs">+6.548</text>
<text class="x" x="1898.1" y="455.1">×</text>
<text class="n" x="1945.1" y="447.1" textLength="40" lengthAdjust="spacingAndGlyphs">10</text>
<text class="s" x="1985.6" y="427.6">−3</text>
<text class="n" x="1775.6" y="488.5" textLength="116" lengthAdjust="spacingAndGlyphs">+5.457</text>
<text class="x" x="1898.1" y="496.5">×</text>
<text class="n" x="1945.1" y="488.5" textLength="40" lengthAdjust="spacingAndGlyphs">10</text>
<text class="s" x="1985.6" y="469.0">−3</text>
<text class="n" x="1775.6" y="530.0" textLength="116" lengthAdjust="spacingAndGlyphs">+4.365</text>
<text class="x" x="1898.1" y="538.0">×</text>
<text class="n" x="1945.1" y="530.0" textLength="40" lengthAdjust="spacingAndGlyphs">10</text>
<text class="s" x="1985.6" y="510.5">−3</text>
<text class="n" x="1775.6" y="571.4" textLength="116" lengthAdjust="spacingAndGlyphs">+3.274</text>
<text class="x" x="1898.1" y="579.4">×</text>
<text class="n" x="1945.1" y="571.4" textLength="40" lengthAdjust="spacingAndGlyphs">10</text>
<text class="s" x="1985.6" y="551.9">−3</text>
<text class="n" x="1775.6" y="612.8" textLength="116" lengthAdjust="spacingAndGlyphs">+2.183</text>
<text class="x" x="1898.1" y="620.8">×</text>
<text class="n" x="1945.1" y="612.8" textLength="40" lengthAdjust="spacingAndGlyphs">10</text>
<text class="s" x="1985.6" y="593.3">−3</text>
<text class="n" x="1775.6" y="654.3" textLength="116" lengthAdjust="spacingAndGlyphs">+1.091</text>
<text class="x" x="1898.1" y="662.3">×</text>
<text class="n" x="1945.1" y="654.3" textLength="40" lengthAdjust="spacingAndGlyphs">10</text>
<text class="s" x="1985.6" y="634.8">−3</text>
<text class="n" x="1797.1" y="695.7">0</text>
<text class="h" x="1668" y="116">位移</text>
<rect x="46.8" y="1006.4" width="475.7" height="745.6" fill="#fff"/>
<line x1="46.8" y1="1006.4" x2="522.5" y2="1006.4" stroke="#6f7173" stroke-width="2.5"/>
<line x1="522.5" y1="1006.4" x2="522.5" y2="1752" stroke="#7b7d80" stroke-width="2.5"/>
<line x1="46.8" y1="1752" x2="522.5" y2="1752" stroke="#3a3a3c" stroke-width="3"/>
<line x1="46.8" y1="1005.4" x2="46.8" y2="1753.5" stroke="#222" stroke-width="3.5"/>
<rect x="88.5" y="1134.0" width="63.5" height="41.9" fill="#d0d1d3"/>
<rect x="88.5" y="1175.4" width="63.5" height="41.9" fill="#e10f1c"/>
<rect x="88.5" y="1216.7" width="63.5" height="41.9" fill="#ef4a1e"/>
<rect x="88.5" y="1258.1" width="63.5" height="41.9" fill="#f8951d"/>
<rect x="88.5" y="1299.4" width="63.5" height="41.9" fill="#f1e521"/>
<rect x="88.5" y="1340.8" width="63.5" height="41.9" fill="#7fba2a"/>
<rect x="88.5" y="1382.1" width="63.5" height="41.9" fill="#1f9b39"/>
<rect x="88.5" y="1423.5" width="63.5" height="41.9" fill="#1e9737"/>
<rect x="88.5" y="1464.9" width="63.5" height="41.9" fill="#2ba052"/>
<rect x="88.5" y="1506.2" width="63.5" height="41.9" fill="#1aa59b"/>
<rect x="88.5" y="1547.6" width="63.5" height="41.9" fill="#14a2e2"/>
<rect x="88.5" y="1588.9" width="63.5" height="41.9" fill="#0b4c9c"/>
<rect x="88.5" y="1630.3" width="63.5" height="41.9" fill="#021a68"/>
<rect x="88.5" y="1671.6" width="63.5" height="41.9" fill="#37383a"/>
<path d="M88.5 1464.9 V1134 H152 V1464.9" fill="none" stroke="#1b1b1d" stroke-width="3" stroke-opacity="0.9"/>
<path d="M88.5 1464.9 V1713 H152 V1464.9" fill="none" stroke="#222c40" stroke-width="2.2" stroke-opacity="0.8"/>
<line x1="88.5" y1="1175.4" x2="152" y2="1175.4" stroke="#1d1d1f" stroke-width="1.6" stroke-opacity="0.8"/>
<line x1="152" y1="1175.4" x2="173" y2="1175.4" stroke="#161616" stroke-width="3"/>
<line x1="88.5" y1="1216.7" x2="152" y2="1216.7" stroke="#1d1d1f" stroke-width="1.6" stroke-opacity="0.8"/>
<line x1="152" y1="1216.7" x2="173" y2="1216.7" stroke="#8a8c90" stroke-width="2.2"/>
<line x1="88.5" y1="1258.1" x2="152" y2="1258.1" stroke="#1d1d1f" stroke-width="1.6" stroke-opacity="0.8"/>
<line x1="152" y1="1258.1" x2="173" y2="1258.1" stroke="#8a8c90" stroke-width="2.2"/>
<line x1="88.5" y1="1299.4" x2="152" y2="1299.4" stroke="#1d1d1f" stroke-width="1.6" stroke-opacity="0.8"/>
<line x1="152" y1="1299.4" x2="173" y2="1299.4" stroke="#8a8c90" stroke-width="2.2"/>
<line x1="88.5" y1="1340.8" x2="152" y2="1340.8" stroke="#1d1d1f" stroke-width="1.6" stroke-opacity="0.8"/>
<line x1="152" y1="1340.8" x2="173" y2="1340.8" stroke="#8a8c90" stroke-width="2.2"/>
<line x1="88.5" y1="1382.1" x2="152" y2="1382.1" stroke="#1d1d1f" stroke-width="1.6" stroke-opacity="0.8"/>
<line x1="152" y1="1382.1" x2="173" y2="1382.1" stroke="#8a8c90" stroke-width="2.2"/>
<line x1="88.5" y1="1423.5" x2="152" y2="1423.5" stroke="#1d1d1f" stroke-width="1.6" stroke-opacity="0.8"/>
<line x1="152" y1="1423.5" x2="173" y2="1423.5" stroke="#161616" stroke-width="3"/>
<line x1="88.5" y1="1464.9" x2="152" y2="1464.9" stroke="#1d1d1f" stroke-width="1.6" stroke-opacity="0.8"/>
<line x1="152" y1="1464.9" x2="173" y2="1464.9" stroke="#161616" stroke-width="3"/>
<line x1="152" y1="1506.2" x2="173" y2="1506.2" stroke="#161616" stroke-width="3"/>
<line x1="152" y1="1547.6" x2="173" y2="1547.6" stroke="#161616" stroke-width="3"/>
<line x1="152" y1="1588.9" x2="173" y2="1588.9" stroke="#8a8c90" stroke-width="2.2"/>
<line x1="152" y1="1630.3" x2="173" y2="1630.3" stroke="#8a8c90" stroke-width="2.2"/>
<line x1="152" y1="1671.6" x2="173" y2="1671.6" stroke="#8a8c90" stroke-width="2.2"/>
<text class="n" x="204" y="1188.5" textLength="116" lengthAdjust="spacingAndGlyphs">+1.310</text>
<text class="x" x="326.5" y="1196.5">×</text>
<text class="n" x="373.5" y="1188.5" textLength="40" lengthAdjust="spacingAndGlyphs">10</text>
<text class="s" x="414" y="1169.0">−2</text>
<text class="n" x="204" y="1229.9" textLength="116" lengthAdjust="spacingAndGlyphs">+1.200</text>
<text class="x" x="326.5" y="1237.9">×</text>
<text class="n" x="373.5" y="1229.9" textLength="40" lengthAdjust="spacingAndGlyphs">10</text>
<text class="s" x="414" y="1210.4">−2</text>
<text class="n" x="204" y="1271.3" textLength="116" lengthAdjust="spacingAndGlyphs">+1.091</text>
<text class="x" x="326.5" y="1279.3">×</text>
<text class="n" x="373.5" y="1271.3" textLength="40" lengthAdjust="spacingAndGlyphs">10</text>
<text class="s" x="414" y="1251.8">−2</text>
<text class="n" x="204" y="1312.8" textLength="116" lengthAdjust="spacingAndGlyphs">+9.822</text>
<text class="x" x="326.5" y="1320.8">×</text>
<text class="n" x="373.5" y="1312.8" textLength="40" lengthAdjust="spacingAndGlyphs">10</text>
<text class="s" x="414" y="1293.2">−3</text>
<text class="n" x="204" y="1354.2" textLength="116" lengthAdjust="spacingAndGlyphs">+8.731</text>
<text class="x" x="326.5" y="1362.2">×</text>
<text class="n" x="373.5" y="1354.2" textLength="40" lengthAdjust="spacingAndGlyphs">10</text>
<text class="s" x="414" y="1334.7">−3</text>
<text class="n" x="204" y="1395.6" textLength="116" lengthAdjust="spacingAndGlyphs">+7.639</text>
<text class="x" x="326.5" y="1403.6">×</text>
<text class="n" x="373.5" y="1395.6" textLength="40" lengthAdjust="spacingAndGlyphs">10</text>
<text class="s" x="414" y="1376.1">−3</text>
<text class="n" x="204" y="1437.0" textLength="116" lengthAdjust="spacingAndGlyphs">+6.548</text>
<text class="x" x="326.5" y="1445.0">×</text>
<text class="n" x="373.5" y="1437.0" textLength="40" lengthAdjust="spacingAndGlyphs">10</text>
<text class="s" x="414" y="1417.5">−3</text>
<text class="n" x="204" y="1478.4" textLength="116" lengthAdjust="spacingAndGlyphs">+5.457</text>
<text class="x" x="326.5" y="1486.4">×</text>
<text class="n" x="373.5" y="1478.4" textLength="40" lengthAdjust="spacingAndGlyphs">10</text>
<text class="s" x="414" y="1458.9">−3</text>
<text class="n" x="204" y="1519.8" textLength="116" lengthAdjust="spacingAndGlyphs">+4.365</text>
<text class="x" x="326.5" y="1527.8">×</text>
<text class="n" x="373.5" y="1519.8" textLength="40" lengthAdjust="spacingAndGlyphs">10</text>
<text class="s" x="414" y="1500.3">−3</text>
<text class="n" x="204" y="1561.2" textLength="116" lengthAdjust="spacingAndGlyphs">+3.274</text>
<text class="x" x="326.5" y="1569.2">×</text>
<text class="n" x="373.5" y="1561.2" textLength="40" lengthAdjust="spacingAndGlyphs">10</text>
<text class="s" x="414" y="1541.8">−3</text>
<text class="n" x="204" y="1602.7" textLength="116" lengthAdjust="spacingAndGlyphs">+2.183</text>
<text class="x" x="326.5" y="1610.7">×</text>
<text class="n" x="373.5" y="1602.7" textLength="40" lengthAdjust="spacingAndGlyphs">10</text>
<text class="s" x="414" y="1583.2">−3</text>
<text class="n" x="204" y="1644.1" textLength="116" lengthAdjust="spacingAndGlyphs">+1.091</text>
<text class="x" x="326.5" y="1652.1">×</text>
<text class="n" x="373.5" y="1644.1" textLength="40" lengthAdjust="spacingAndGlyphs">10</text>
<text class="s" x="414" y="1624.6">−3</text>
<text class="n" x="225.5" y="1685.5">0</text>
<text class="h" x="70" y="1101.5">位移</text>
<rect x="1634.5" y="1006" width="476.5" height="746" fill="#fff"/>
<line x1="1634.5" y1="1006" x2="2111" y2="1006" stroke="#6f7173" stroke-width="2.5"/>
<line x1="2111" y1="1006" x2="2111" y2="1752" stroke="#7b7d80" stroke-width="2.5"/>
<line x1="1634.5" y1="1752" x2="2111" y2="1752" stroke="#3a3a3c" stroke-width="3"/>
<line x1="1634.5" y1="1005" x2="1634.5" y2="1753.5" stroke="#222" stroke-width="3.5"/>
<rect x="1675.7" y="1134.0" width="65.29999999999995" height="41.9" fill="#d0d1d3"/>
<rect x="1675.7" y="1175.4" width="65.29999999999995" height="41.9" fill="#e10f1c"/>
<rect x="1675.7" y="1216.7" width="65.29999999999995" height="41.9" fill="#ef4a1e"/>
<rect x="1675.7" y="1258.1" width="65.29999999999995" height="41.9" fill="#f8951d"/>
<rect x="1675.7" y="1299.4" width="65.29999999999995" height="41.9" fill="#f1e521"/>
<rect x="1675.7" y="1340.8" width="65.29999999999995" height="41.9" fill="#7fba2a"/>
<rect x="1675.7" y="1382.1" width="65.29999999999995" height="41.9" fill="#1f9b39"/>
<rect x="1675.7" y="1423.5" width="65.29999999999995" height="41.9" fill="#1e9737"/>
<rect x="1675.7" y="1464.9" width="65.29999999999995" height="41.9" fill="#2ba052"/>
<rect x="1675.7" y="1506.2" width="65.29999999999995" height="41.9" fill="#1aa59b"/>
<rect x="1675.7" y="1547.6" width="65.29999999999995" height="41.9" fill="#14a2e2"/>
<rect x="1675.7" y="1588.9" width="65.29999999999995" height="41.9" fill="#0b4c9c"/>
<rect x="1675.7" y="1630.3" width="65.29999999999995" height="41.9" fill="#021a68"/>
<rect x="1675.7" y="1671.6" width="65.29999999999995" height="41.9" fill="#37383a"/>
<path d="M1675.7 1464.9 V1134 H1741 V1464.9" fill="none" stroke="#1b1b1d" stroke-width="3" stroke-opacity="0.9"/>
<path d="M1675.7 1464.9 V1713 H1741 V1464.9" fill="none" stroke="#222c40" stroke-width="2.2" stroke-opacity="0.8"/>
<line x1="1675.7" y1="1175.4" x2="1741" y2="1175.4" stroke="#1d1d1f" stroke-width="1.6" stroke-opacity="0.8"/>
<line x1="1741" y1="1175.4" x2="1762" y2="1175.4" stroke="#161616" stroke-width="3"/>
<line x1="1675.7" y1="1216.7" x2="1741" y2="1216.7" stroke="#1d1d1f" stroke-width="1.6" stroke-opacity="0.8"/>
<line x1="1741" y1="1216.7" x2="1762" y2="1216.7" stroke="#8a8c90" stroke-width="2.2"/>
<line x1="1675.7" y1="1258.1" x2="1741" y2="1258.1" stroke="#1d1d1f" stroke-width="1.6" stroke-opacity="0.8"/>
<line x1="1741" y1="1258.1" x2="1762" y2="1258.1" stroke="#8a8c90" stroke-width="2.2"/>
<line x1="1675.7" y1="1299.4" x2="1741" y2="1299.4" stroke="#1d1d1f" stroke-width="1.6" stroke-opacity="0.8"/>
<line x1="1741" y1="1299.4" x2="1762" y2="1299.4" stroke="#8a8c90" stroke-width="2.2"/>
<line x1="1675.7" y1="1340.8" x2="1741" y2="1340.8" stroke="#1d1d1f" stroke-width="1.6" stroke-opacity="0.8"/>
<line x1="1741" y1="1340.8" x2="1762" y2="1340.8" stroke="#8a8c90" stroke-width="2.2"/>
<line x1="1675.7" y1="1382.1" x2="1741" y2="1382.1" stroke="#1d1d1f" stroke-width="1.6" stroke-opacity="0.8"/>
<line x1="1741" y1="1382.1" x2="1762" y2="1382.1" stroke="#8a8c90" stroke-width="2.2"/>
<line x1="1675.7" y1="1423.5" x2="1741" y2="1423.5" stroke="#1d1d1f" stroke-width="1.6" stroke-opacity="0.8"/>
<line x1="1741" y1="1423.5" x2="1762" y2="1423.5" stroke="#161616" stroke-width="3"/>
<line x1="1675.7" y1="1464.9" x2="1741" y2="1464.9" stroke="#1d1d1f" stroke-width="1.6" stroke-opacity="0.8"/>
<line x1="1741" y1="1464.9" x2="1762" y2="1464.9" stroke="#161616" stroke-width="3"/>
<line x1="1741" y1="1506.2" x2="1762" y2="1506.2" stroke="#161616" stroke-width="3"/>
<line x1="1741" y1="1547.6" x2="1762" y2="1547.6" stroke="#161616" stroke-width="3"/>
<line x1="1741" y1="1588.9" x2="1762" y2="1588.9" stroke="#8a8c90" stroke-width="2.2"/>
<line x1="1741" y1="1630.3" x2="1762" y2="1630.3" stroke="#8a8c90" stroke-width="2.2"/>
<line x1="1741" y1="1671.6" x2="1762" y2="1671.6" stroke="#8a8c90" stroke-width="2.2"/>
<text class="n" x="1783" y="1188.5" textLength="116" lengthAdjust="spacingAndGlyphs">+1.310</text>
<text class="x" x="1905.5" y="1196.5">×</text>
<text class="n" x="1952.5" y="1188.5" textLength="40" lengthAdjust="spacingAndGlyphs">10</text>
<text class="s" x="1993" y="1169.0">−2</text>
<text class="n" x="1783" y="1229.9" textLength="116" lengthAdjust="spacingAndGlyphs">+1.200</text>
<text class="x" x="1905.5" y="1237.9">×</text>
<text class="n" x="1952.5" y="1229.9" textLength="40" lengthAdjust="spacingAndGlyphs">10</text>
<text class="s" x="1993" y="1210.4">−2</text>
<text class="n" x="1783" y="1271.3" textLength="116" lengthAdjust="spacingAndGlyphs">+1.091</text>
<text class="x" x="1905.5" y="1279.3">×</text>
<text class="n" x="1952.5" y="1271.3" textLength="40" lengthAdjust="spacingAndGlyphs">10</text>
<text class="s" x="1993" y="1251.8">−2</text>
<text class="n" x="1783" y="1312.8" textLength="116" lengthAdjust="spacingAndGlyphs">+9.822</text>
<text class="x" x="1905.5" y="1320.8">×</text>
<text class="n" x="1952.5" y="1312.8" textLength="40" lengthAdjust="spacingAndGlyphs">10</text>
<text class="s" x="1993" y="1293.2">−3</text>
<text class="n" x="1783" y="1354.2" textLength="116" lengthAdjust="spacingAndGlyphs">+8.731</text>
<text class="x" x="1905.5" y="1362.2">×</text>
<text class="n" x="1952.5" y="1354.2" textLength="40" lengthAdjust="spacingAndGlyphs">10</text>
<text class="s" x="1993" y="1334.7">−3</text>
<text class="n" x="1783" y="1395.6" textLength="116" lengthAdjust="spacingAndGlyphs">+7.639</text>
<text class="x" x="1905.5" y="1403.6">×</text>
<text class="n" x="1952.5" y="1395.6" textLength="40" lengthAdjust="spacingAndGlyphs">10</text>
<text class="s" x="1993" y="1376.1">−3</text>
<text class="n" x="1783" y="1437.0" textLength="116" lengthAdjust="spacingAndGlyphs">+6.548</text>
<text class="x" x="1905.5" y="1445.0">×</text>
<text class="n" x="1952.5" y="1437.0" textLength="40" lengthAdjust="spacingAndGlyphs">10</text>
<text class="s" x="1993" y="1417.5">−3</text>
<text class="n" x="1783" y="1478.4" textLength="116" lengthAdjust="spacingAndGlyphs">+5.457</text>
<text class="x" x="1905.5" y="1486.4">×</text>
<text class="n" x="1952.5" y="1478.4" textLength="40" lengthAdjust="spacingAndGlyphs">10</text>
<text class="s" x="1993" y="1458.9">−3</text>
<text class="n" x="1783" y="1519.8" textLength="116" lengthAdjust="spacingAndGlyphs">+4.365</text>
<text class="x" x="1905.5" y="1527.8">×</text>
<text class="n" x="1952.5" y="1519.8" textLength="40" lengthAdjust="spacingAndGlyphs">10</text>
<text class="s" x="1993" y="1500.3">−3</text>
<text class="n" x="1783" y="1561.2" textLength="116" lengthAdjust="spacingAndGlyphs">+3.274</text>
<text class="x" x="1905.5" y="1569.2">×</text>
<text class="n" x="1952.5" y="1561.2" textLength="40" lengthAdjust="spacingAndGlyphs">10</text>
<text class="s" x="1993" y="1541.8">−3</text>
<text class="n" x="1783" y="1602.7" textLength="116" lengthAdjust="spacingAndGlyphs">+2.183</text>
<text class="x" x="1905.5" y="1610.7">×</text>
<text class="n" x="1952.5" y="1602.7" textLength="40" lengthAdjust="spacingAndGlyphs">10</text>
<text class="s" x="1993" y="1583.2">−3</text>
<text class="n" x="1783" y="1644.1" textLength="116" lengthAdjust="spacingAndGlyphs">+1.091</text>
<text class="x" x="1905.5" y="1652.1">×</text>
<text class="n" x="1952.5" y="1644.1" textLength="40" lengthAdjust="spacingAndGlyphs">10</text>
<text class="s" x="1993" y="1624.6">−3</text>
<text class="n" x="1804.5" y="1685.5">0</text>
<text class="h" x="1668" y="1101.5">位移</text>
<rect x="46.8" y="1989" width="475.7" height="747.5999999999999" fill="#fff"/>
<line x1="46.8" y1="1989" x2="522.5" y2="1989" stroke="#6f7173" stroke-width="2.5"/>
<line x1="522.5" y1="1989" x2="522.5" y2="2736.6" stroke="#7b7d80" stroke-width="2.5"/>
<line x1="46.8" y1="2736.6" x2="522.5" y2="2736.6" stroke="#3a3a3c" stroke-width="3"/>
<line x1="46.8" y1="1988" x2="46.8" y2="2738.1" stroke="#222" stroke-width="3.5"/>
<rect x="88.5" y="2113.0" width="63.5" height="42.1" fill="#d0d1d3"/>
<rect x="88.5" y="2154.6" width="63.5" height="42.1" fill="#e10f1c"/>
<rect x="88.5" y="2196.3" width="63.5" height="42.1" fill="#ef4a1e"/>
<rect x="88.5" y="2237.9" width="63.5" height="42.1" fill="#f8951d"/>
<rect x="88.5" y="2279.6" width="63.5" height="42.1" fill="#f1e521"/>
<rect x="88.5" y="2321.2" width="63.5" height="42.1" fill="#7fba2a"/>
<rect x="88.5" y="2362.9" width="63.5" height="42.1" fill="#1f9b39"/>
<rect x="88.5" y="2404.5" width="63.5" height="42.1" fill="#1e9737"/>
<rect x="88.5" y="2446.1" width="63.5" height="42.1" fill="#2ba052"/>
<rect x="88.5" y="2487.8" width="63.5" height="42.1" fill="#1aa59b"/>
<rect x="88.5" y="2529.4" width="63.5" height="42.1" fill="#14a2e2"/>
<rect x="88.5" y="2571.1" width="63.5" height="42.1" fill="#0b4c9c"/>
<rect x="88.5" y="2612.7" width="63.5" height="42.1" fill="#021a68"/>
<rect x="88.5" y="2654.4" width="63.5" height="42.1" fill="#37383a"/>
<path d="M88.5 2446.1 V2113 H152 V2446.1" fill="none" stroke="#1b1b1d" stroke-width="3" stroke-opacity="0.9"/>
<path d="M88.5 2446.1 V2696 H152 V2446.1" fill="none" stroke="#222c40" stroke-width="2.2" stroke-opacity="0.8"/>
<line x1="88.5" y1="2154.6" x2="152" y2="2154.6" stroke="#1d1d1f" stroke-width="1.6" stroke-opacity="0.8"/>
<line x1="152" y1="2154.6" x2="173" y2="2154.6" stroke="#8a8c90" stroke-width="2.2"/>
<line x1="88.5" y1="2196.3" x2="152" y2="2196.3" stroke="#1d1d1f" stroke-width="1.6" stroke-opacity="0.8"/>
<line x1="152" y1="2196.3" x2="173" y2="2196.3" stroke="#8a8c90" stroke-width="2.2"/>
<line x1="88.5" y1="2237.9" x2="152" y2="2237.9" stroke="#1d1d1f" stroke-width="1.6" stroke-opacity="0.8"/>
<line x1="152" y1="2237.9" x2="173" y2="2237.9" stroke="#8a8c90" stroke-width="2.2"/>
<line x1="88.5" y1="2279.6" x2="152" y2="2279.6" stroke="#1d1d1f" stroke-width="1.6" stroke-opacity="0.8"/>
<line x1="152" y1="2279.6" x2="173" y2="2279.6" stroke="#8a8c90" stroke-width="2.2"/>
<line x1="88.5" y1="2321.2" x2="152" y2="2321.2" stroke="#1d1d1f" stroke-width="1.6" stroke-opacity="0.8"/>
<line x1="152" y1="2321.2" x2="173" y2="2321.2" stroke="#8a8c90" stroke-width="2.2"/>
<line x1="88.5" y1="2362.9" x2="152" y2="2362.9" stroke="#1d1d1f" stroke-width="1.6" stroke-opacity="0.8"/>
<line x1="152" y1="2362.9" x2="173" y2="2362.9" stroke="#8a8c90" stroke-width="2.2"/>
<line x1="88.5" y1="2404.5" x2="152" y2="2404.5" stroke="#1d1d1f" stroke-width="1.6" stroke-opacity="0.8"/>
<line x1="152" y1="2404.5" x2="173" y2="2404.5" stroke="#8a8c90" stroke-width="2.2"/>
<line x1="88.5" y1="2446.1" x2="152" y2="2446.1" stroke="#1d1d1f" stroke-width="1.6" stroke-opacity="0.8"/>
<line x1="152" y1="2446.1" x2="173" y2="2446.1" stroke="#161616" stroke-width="3"/>
<line x1="152" y1="2487.8" x2="173" y2="2487.8" stroke="#161616" stroke-width="3"/>
<line x1="152" y1="2529.4" x2="173" y2="2529.4" stroke="#161616" stroke-width="3"/>
<line x1="152" y1="2571.1" x2="173" y2="2571.1" stroke="#161616" stroke-width="3"/>
<line x1="152" y1="2612.7" x2="173" y2="2612.7" stroke="#161616" stroke-width="3"/>
<line x1="152" y1="2654.4" x2="173" y2="2654.4" stroke="#161616" stroke-width="3"/>
<text class="n" x="203" y="2168.5" textLength="116" lengthAdjust="spacingAndGlyphs">+1.310</text>
<text class="x" x="325.5" y="2176.5">×</text>
<text class="n" x="372.5" y="2168.5" textLength="40" lengthAdjust="spacingAndGlyphs">10</text>
<text class="s" x="413" y="2149.0">−2</text>
<text class="n" x="203" y="2209.9" textLength="116" lengthAdjust="spacingAndGlyphs">+1.200</text>
<text class="x" x="325.5" y="2217.9">×</text>
<text class="n" x="372.5" y="2209.9" textLength="40" lengthAdjust="spacingAndGlyphs">10</text>
<text class="s" x="413" y="2190.4">−2</text>
<text class="n" x="203" y="2251.3" textLength="116" lengthAdjust="spacingAndGlyphs">+1.091</text>
<text class="x" x="325.5" y="2259.3">×</text>
<text class="n" x="372.5" y="2251.3" textLength="40" lengthAdjust="spacingAndGlyphs">10</text>
<text class="s" x="413" y="2231.8">−2</text>
<text class="n" x="203" y="2292.8" textLength="116" lengthAdjust="spacingAndGlyphs">+9.822</text>
<text class="x" x="325.5" y="2300.8">×</text>
<text class="n" x="372.5" y="2292.8" textLength="40" lengthAdjust="spacingAndGlyphs">10</text>
<text class="s" x="413" y="2273.2">−3</text>
<text class="n" x="203" y="2334.2" textLength="116" lengthAdjust="spacingAndGlyphs">+8.731</text>
<text class="x" x="325.5" y="2342.2">×</text>
<text class="n" x="372.5" y="2334.2" textLength="40" lengthAdjust="spacingAndGlyphs">10</text>
<text class="s" x="413" y="2314.7">−3</text>
<text class="n" x="203" y="2375.6" textLength="116" lengthAdjust="spacingAndGlyphs">+7.639</text>
<text class="x" x="325.5" y="2383.6">×</text>
<text class="n" x="372.5" y="2375.6" textLength="40" lengthAdjust="spacingAndGlyphs">10</text>
<text class="s" x="413" y="2356.1">−3</text>
<text class="n" x="203" y="2417.0" textLength="116" lengthAdjust="spacingAndGlyphs">+6.548</text>
<text class="x" x="325.5" y="2425.0">×</text>
<text class="n" x="372.5" y="2417.0" textLength="40" lengthAdjust="spacingAndGlyphs">10</text>
<text class="s" x="413" y="2397.5">−3</text>
<text class="n" x="203" y="2458.4" textLength="116" lengthAdjust="spacingAndGlyphs">+5.457</text>
<text class="x" x="325.5" y="2466.4">×</text>
<text class="n" x="372.5" y="2458.4" textLength="40" lengthAdjust="spacingAndGlyphs">10</text>
<text class="s" x="413" y="2438.9">−3</text>
<text class="n" x="203" y="2499.8" textLength="116" lengthAdjust="spacingAndGlyphs">+4.365</text>
<text class="x" x="325.5" y="2507.8">×</text>
<text class="n" x="372.5" y="2499.8" textLength="40" lengthAdjust="spacingAndGlyphs">10</text>
<text class="s" x="413" y="2480.3">−3</text>
<text class="n" x="203" y="2541.2" textLength="116" lengthAdjust="spacingAndGlyphs">+3.274</text>
<text class="x" x="325.5" y="2549.2">×</text>
<text class="n" x="372.5" y="2541.2" textLength="40" lengthAdjust="spacingAndGlyphs">10</text>
<text class="s" x="413" y="2521.8">−3</text>
<text class="n" x="203" y="2582.7" textLength="116" lengthAdjust="spacingAndGlyphs">+2.183</text>
<text class="x" x="325.5" y="2590.7">×</text>
<text class="n" x="372.5" y="2582.7" textLength="40" lengthAdjust="spacingAndGlyphs">10</text>
<text class="s" x="413" y="2563.2">−3</text>
<text class="n" x="203" y="2624.1" textLength="116" lengthAdjust="spacingAndGlyphs">+1.091</text>
<text class="x" x="325.5" y="2632.1">×</text>
<text class="n" x="372.5" y="2624.1" textLength="40" lengthAdjust="spacingAndGlyphs">10</text>
<text class="s" x="413" y="2604.6">−3</text>
<text class="n" x="224.5" y="2665.5">0</text>
<text class="h" x="70" y="2084">位移</text>
<rect x="1634.5" y="1989" width="476.5" height="747.5999999999999" fill="#fff"/>
<line x1="1634.5" y1="1989" x2="2111" y2="1989" stroke="#6f7173" stroke-width="2.5"/>
<line x1="2111" y1="1989" x2="2111" y2="2736.6" stroke="#7b7d80" stroke-width="2.5"/>
<line x1="1634.5" y1="2736.6" x2="2111" y2="2736.6" stroke="#3a3a3c" stroke-width="3"/>
<line x1="1634.5" y1="1988" x2="1634.5" y2="2738.1" stroke="#222" stroke-width="3.5"/>
<rect x="1675.7" y="2113.0" width="65.29999999999995" height="42.1" fill="#d0d1d3"/>
<rect x="1675.7" y="2154.6" width="65.29999999999995" height="42.1" fill="#e10f1c"/>
<rect x="1675.7" y="2196.3" width="65.29999999999995" height="42.1" fill="#ef4a1e"/>
<rect x="1675.7" y="2237.9" width="65.29999999999995" height="42.1" fill="#f8951d"/>
<rect x="1675.7" y="2279.6" width="65.29999999999995" height="42.1" fill="#f1e521"/>
<rect x="1675.7" y="2321.2" width="65.29999999999995" height="42.1" fill="#7fba2a"/>
<rect x="1675.7" y="2362.9" width="65.29999999999995" height="42.1" fill="#1f9b39"/>
<rect x="1675.7" y="2404.5" width="65.29999999999995" height="42.1" fill="#1e9737"/>
<rect x="1675.7" y="2446.1" width="65.29999999999995" height="42.1" fill="#2ba052"/>
<rect x="1675.7" y="2487.8" width="65.29999999999995" height="42.1" fill="#1aa59b"/>
<rect x="1675.7" y="2529.4" width="65.29999999999995" height="42.1" fill="#14a2e2"/>
<rect x="1675.7" y="2571.1" width="65.29999999999995" height="42.1" fill="#0b4c9c"/>
<rect x="1675.7" y="2612.7" width="65.29999999999995" height="42.1" fill="#021a68"/>
<rect x="1675.7" y="2654.4" width="65.29999999999995" height="42.1" fill="#37383a"/>
<path d="M1675.7 2446.1 V2113 H1741 V2446.1" fill="none" stroke="#1b1b1d" stroke-width="3" stroke-opacity="0.9"/>
<path d="M1675.7 2446.1 V2696 H1741 V2446.1" fill="none" stroke="#222c40" stroke-width="2.2" stroke-opacity="0.8"/>
<line x1="1675.7" y1="2154.6" x2="1741" y2="2154.6" stroke="#1d1d1f" stroke-width="1.6" stroke-opacity="0.8"/>
<line x1="1741" y1="2154.6" x2="1762" y2="2154.6" stroke="#8a8c90" stroke-width="2.2"/>
<line x1="1675.7" y1="2196.3" x2="1741" y2="2196.3" stroke="#1d1d1f" stroke-width="1.6" stroke-opacity="0.8"/>
<line x1="1741" y1="2196.3" x2="1762" y2="2196.3" stroke="#8a8c90" stroke-width="2.2"/>
<line x1="1675.7" y1="2237.9" x2="1741" y2="2237.9" stroke="#1d1d1f" stroke-width="1.6" stroke-opacity="0.8"/>
<line x1="1741" y1="2237.9" x2="1762" y2="2237.9" stroke="#8a8c90" stroke-width="2.2"/>
<line x1="1675.7" y1="2279.6" x2="1741" y2="2279.6" stroke="#1d1d1f" stroke-width="1.6" stroke-opacity="0.8"/>
<line x1="1741" y1="2279.6" x2="1762" y2="2279.6" stroke="#8a8c90" stroke-width="2.2"/>
<line x1="1675.7" y1="2321.2" x2="1741" y2="2321.2" stroke="#1d1d1f" stroke-width="1.6" stroke-opacity="0.8"/>
<line x1="1741" y1="2321.2" x2="1762" y2="2321.2" stroke="#8a8c90" stroke-width="2.2"/>
<line x1="1675.7" y1="2362.9" x2="1741" y2="2362.9" stroke="#1d1d1f" stroke-width="1.6" stroke-opacity="0.8"/>
<line x1="1741" y1="2362.9" x2="1762" y2="2362.9" stroke="#8a8c90" stroke-width="2.2"/>
<line x1="1675.7" y1="2404.5" x2="1741" y2="2404.5" stroke="#1d1d1f" stroke-width="1.6" stroke-opacity="0.8"/>
<line x1="1741" y1="2404.5" x2="1762" y2="2404.5" stroke="#8a8c90" stroke-width="2.2"/>
<line x1="1675.7" y1="2446.1" x2="1741" y2="2446.1" stroke="#1d1d1f" stroke-width="1.6" stroke-opacity="0.8"/>
<line x1="1741" y1="2446.1" x2="1762" y2="2446.1" stroke="#161616" stroke-width="3"/>
<line x1="1741" y1="2487.8" x2="1762" y2="2487.8" stroke="#161616" stroke-width="3"/>
<line x1="1741" y1="2529.4" x2="1762" y2="2529.4" stroke="#161616" stroke-width="3"/>
<line x1="1741" y1="2571.1" x2="1762" y2="2571.1" stroke="#161616" stroke-width="3"/>
<line x1="1741" y1="2612.7" x2="1762" y2="2612.7" stroke="#161616" stroke-width="3"/>
<line x1="1741" y1="2654.4" x2="1762" y2="2654.4" stroke="#161616" stroke-width="3"/>
<text class="n" x="1782.4" y="2168.5" textLength="116" lengthAdjust="spacingAndGlyphs">+1.310</text>
<text class="x" x="1904.9" y="2176.5">×</text>
<text class="n" x="1951.9" y="2168.5" textLength="40" lengthAdjust="spacingAndGlyphs">10</text>
<text class="s" x="1992.4" y="2149.0">−2</text>
<text class="n" x="1782.4" y="2209.9" textLength="116" lengthAdjust="spacingAndGlyphs">+1.200</text>
<text class="x" x="1904.9" y="2217.9">×</text>
<text class="n" x="1951.9" y="2209.9" textLength="40" lengthAdjust="spacingAndGlyphs">10</text>
<text class="s" x="1992.4" y="2190.4">−2</text>
<text class="n" x="1782.4" y="2251.3" textLength="116" lengthAdjust="spacingAndGlyphs">+1.091</text>
<text class="x" x="1904.9" y="2259.3">×</text>
<text class="n" x="1951.9" y="2251.3" textLength="40" lengthAdjust="spacingAndGlyphs">10</text>
<text class="s" x="1992.4" y="2231.8">−2</text>
<text class="n" x="1782.4" y="2292.8" textLength="116" lengthAdjust="spacingAndGlyphs">+9.822</text>
<text class="x" x="1904.9" y="2300.8">×</text>
<text class="n" x="1951.9" y="2292.8" textLength="40" lengthAdjust="spacingAndGlyphs">10</text>
<text class="s" x="1992.4" y="2273.2">−3</text>
<text class="n" x="1782.4" y="2334.2" textLength="116" lengthAdjust="spacingAndGlyphs">+8.731</text>
<text class="x" x="1904.9" y="2342.2">×</text>
<text class="n" x="1951.9" y="2334.2" textLength="40" lengthAdjust="spacingAndGlyphs">10</text>
<text class="s" x="1992.4" y="2314.7">−3</text>
<text class="n" x="1782.4" y="2375.6" textLength="116" lengthAdjust="spacingAndGlyphs">+7.639</text>
<text class="x" x="1904.9" y="2383.6">×</text>
<text class="n" x="1951.9" y="2375.6" textLength="40" lengthAdjust="spacingAndGlyphs">10</text>
<text class="s" x="1992.4" y="2356.1">−3</text>
<text class="n" x="1782.4" y="2417.0" textLength="116" lengthAdjust="spacingAndGlyphs">+6.548</text>
<text class="x" x="1904.9" y="2425.0">×</text>
<text class="n" x="1951.9" y="2417.0" textLength="40" lengthAdjust="spacingAndGlyphs">10</text>
<text class="s" x="1992.4" y="2397.5">−3</text>
<text class="n" x="1782.4" y="2458.4" textLength="116" lengthAdjust="spacingAndGlyphs">+5.457</text>
<text class="x" x="1904.9" y="2466.4">×</text>
<text class="n" x="1951.9" y="2458.4" textLength="40" lengthAdjust="spacingAndGlyphs">10</text>
<text class="s" x="1992.4" y="2438.9">−3</text>
<text class="n" x="1782.4" y="2499.8" textLength="116" lengthAdjust="spacingAndGlyphs">+4.365</text>
<text class="x" x="1904.9" y="2507.8">×</text>
<text class="n" x="1951.9" y="2499.8" textLength="40" lengthAdjust="spacingAndGlyphs">10</text>
<text class="s" x="1992.4" y="2480.3">−3</text>
<text class="n" x="1782.4" y="2541.2" textLength="116" lengthAdjust="spacingAndGlyphs">+3.274</text>
<text class="x" x="1904.9" y="2549.2">×</text>
<text class="n" x="1951.9" y="2541.2" textLength="40" lengthAdjust="spacingAndGlyphs">10</text>
<text class="s" x="1992.4" y="2521.8">−3</text>
<text class="n" x="1782.4" y="2582.7" textLength="116" lengthAdjust="spacingAndGlyphs">+2.183</text>
<text class="x" x="1904.9" y="2590.7">×</text>
<text class="n" x="1951.9" y="2582.7" textLength="40" lengthAdjust="spacingAndGlyphs">10</text>
<text class="s" x="1992.4" y="2563.2">−3</text>
<text class="n" x="1782.4" y="2624.1" textLength="116" lengthAdjust="spacingAndGlyphs">+1.091</text>
<text class="x" x="1904.9" y="2632.1">×</text>
<text class="n" x="1951.9" y="2624.1" textLength="40" lengthAdjust="spacingAndGlyphs">10</text>
<text class="s" x="1992.4" y="2604.6">−3</text>
<text class="n" x="1803.9" y="2665.5">0</text>
<text class="h" x="1668" y="2084">位移</text>
<text class="c" x="716" y="911">(</text>
<text class="c" x="739" y="911">a</text>
<text class="c" x="768" y="911">)</text>
<text class="c" x="800" y="911">0</text>
<text class="c" x="848" y="911">s</text>
<text class="k" x="878" y="911">位移分布云图</text>
<text class="c" x="2270" y="911">(</text>
<text class="c" x="2290" y="911">b</text>
<text class="c" x="2322" y="911">)</text>
<text class="c" x="2356" y="911">0.2</text>
<text class="c" x="2452" y="911">s</text>
<text class="k" x="2482" y="911">位移分布云图</text>
<text class="c" x="692" y="1907">(</text>
<text class="c" x="714" y="1907">c</text>
<text class="c" x="744" y="1907">)</text>
<text class="c" x="775" y="1907">0.4</text>
<text class="c" x="872" y="1907">s</text>
<text class="k" x="902.6" y="1907">位移分布云图</text>
<text class="c" x="2270" y="1907">(</text>
<text class="c" x="2290" y="1907">d</text>
<text class="c" x="2322" y="1907">)</text>
<text class="c" x="2356" y="1907">0.6</text>
<text class="c" x="2452" y="1907">s</text>
<text class="k" x="2482" y="1907">位移分布云图</text>
<text class="c" x="692" y="2891">(</text>
<text class="c" x="714" y="2891">e</text>
<text class="c" x="744" y="2891">)</text>
<text class="c" x="775" y="2891">0.8</text>
<text class="c" x="872" y="2891">s</text>
<text class="k" x="902.6" y="2891">位移分布云图</text>
<text class="c" x="2298" y="2891">(</text>
<text class="c" x="2320" y="2891">f</text>
<text class="c" x="2341" y="2891">)</text>
<text class="c" x="2377" y="2891">1</text>
<text class="c" x="2424" y="2891">s</text>
<text class="k" x="2453.7" y="2891">位移分布云图</text>
</svg></body></html>
